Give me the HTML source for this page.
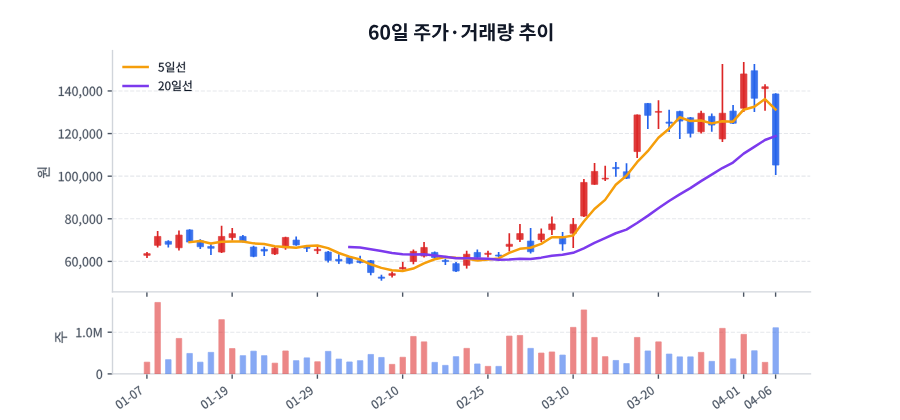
<!DOCTYPE html>
<html><head><meta charset="utf-8"><style>
html,body{margin:0;padding:0;background:#fff;width:900px;height:420px;overflow:hidden;font-family:"Liberation Sans",sans-serif;}
svg{display:block}
</style></head><body>
<svg width="900" height="420" viewBox="0 0 648 302.4" version="1.1">
 
 <defs>
  <style type="text/css">*{stroke-linejoin: round; stroke-linecap: butt}</style>
 </defs>
 <g id="figure_1">
  <g id="patch_1">
   <path d="M 0 302.4 
L 648 302.4 
L 648 0 
L 0 0 
z
" style="fill: #ffffff"/>
  </g>
  <g id="axes_1">
   <g id="patch_2">
    <path d="M 81 210.168 
L 583.56 210.168 
L 583.56 36.432 
L 81 36.432 
L 81 210.168 
z
" style="fill: none"/>
   </g>
   <g id="line2d_1">
    <path d="M 81 188.208 
L 583.56 188.208 
" clip-path="url(#p58a61e97f8)" style="fill: none; stroke-dasharray: 2.96,1.28; stroke-dashoffset: 0; stroke: #e5e7eb; stroke-width: 0.8"/>
   </g>
   <g id="line2d_2">
    <path d="M 81 157.52736 
L 583.56 157.52736 
" clip-path="url(#p58a61e97f8)" style="fill: none; stroke-dasharray: 2.96,1.28; stroke-dashoffset: 0; stroke: #e5e7eb; stroke-width: 0.8"/>
   </g>
   <g id="line2d_3">
    <path d="M 81 126.84672 
L 583.56 126.84672 
" clip-path="url(#p58a61e97f8)" style="fill: none; stroke-dasharray: 2.96,1.28; stroke-dashoffset: 0; stroke: #e5e7eb; stroke-width: 0.8"/>
   </g>
   <g id="line2d_4">
    <path d="M 81 96.16608 
L 583.56 96.16608 
" clip-path="url(#p58a61e97f8)" style="fill: none; stroke-dasharray: 2.96,1.28; stroke-dashoffset: 0; stroke: #e5e7eb; stroke-width: 0.8"/>
   </g>
   <g id="line2d_5">
    <path d="M 81 65.48544 
L 583.56 65.48544 
" clip-path="url(#p58a61e97f8)" style="fill: none; stroke-dasharray: 2.96,1.28; stroke-dashoffset: 0; stroke: #e5e7eb; stroke-width: 0.8"/>
   </g>
   <g id="matplotlib.axis_1">
    <g id="xtick_1">
     <g id="line2d_6">
      <defs>
       <path id="mece1487864" d="M 0 0 
L 0 3.5 
" style="stroke: #4b5563"/>
      </defs>
      <g>
       <use href="#mece1487864" x="105.768" y="210.168" style="fill: #4b5563; stroke: #4b5563"/>
      </g>
     </g>
    </g>
    <g id="xtick_2">
     <g id="line2d_7">
      <g>
       <use href="#mece1487864" x="167.14656" y="210.168" style="fill: #4b5563; stroke: #4b5563"/>
      </g>
     </g>
    </g>
    <g id="xtick_3">
     <g id="line2d_8">
      <g>
       <use href="#mece1487864" x="228.52512" y="210.168" style="fill: #4b5563; stroke: #4b5563"/>
      </g>
     </g>
    </g>
    <g id="xtick_4">
     <g id="line2d_9">
      <g>
       <use href="#mece1487864" x="289.90368" y="210.168" style="fill: #4b5563; stroke: #4b5563"/>
      </g>
     </g>
    </g>
    <g id="xtick_5">
     <g id="line2d_10">
      <g>
       <use href="#mece1487864" x="351.28224" y="210.168" style="fill: #4b5563; stroke: #4b5563"/>
      </g>
     </g>
    </g>
    <g id="xtick_6">
     <g id="line2d_11">
      <g>
       <use href="#mece1487864" x="412.6608" y="210.168" style="fill: #4b5563; stroke: #4b5563"/>
      </g>
     </g>
    </g>
    <g id="xtick_7">
     <g id="line2d_12">
      <g>
       <use href="#mece1487864" x="474.03936" y="210.168" style="fill: #4b5563; stroke: #4b5563"/>
      </g>
     </g>
    </g>
    <g id="xtick_8">
     <g id="line2d_13">
      <g>
       <use href="#mece1487864" x="535.41792" y="210.168" style="fill: #4b5563; stroke: #4b5563"/>
      </g>
     </g>
    </g>
    <g id="xtick_9">
     <g id="line2d_14">
      <g>
       <use href="#mece1487864" x="558.43488" y="210.168" style="fill: #4b5563; stroke: #4b5563"/>
      </g>
     </g>
    </g>
   </g>
   <g id="matplotlib.axis_2">
    <g id="ytick_1">
     <g id="line2d_15">
      <defs>
       <path id="m3193ca7169" d="M 0 0 
L -3.5 0 
" style="stroke: #4b5563"/>
      </defs>
      <g>
       <use href="#m3193ca7169" x="81" y="188.208" style="fill: #4b5563; stroke: #4b5563"/>
      </g>
     </g>
     <g id="text_1">
      <!-- 60,000 -->
      <g style="fill: #4b5563; stroke: #4b5563; stroke-width: 128.0; stroke-linejoin: round" transform="translate(46.523281 191.789719) scale(0.09 -0.09)">
       <defs>
        <path id="NotoSansCJKjp-Regular-36" d="M 1926 -83 
C 2656 -83 3277 531 3277 1440 
C 3277 2426 2765 2912 1971 2912 
C 1606 2912 1197 2701 909 2349 
C 934 3802 1466 4294 2118 4294 
C 2400 4294 2682 4154 2861 3936 
L 3194 4294 
C 2931 4576 2579 4774 2093 4774 
C 1184 4774 358 4077 358 2240 
C 358 691 1030 -83 1926 -83 
z
M 922 1882 
C 1229 2317 1587 2477 1875 2477 
C 2445 2477 2720 2074 2720 1440 
C 2720 800 2374 378 1926 378 
C 1338 378 986 909 922 1882 
z
" transform="scale(0.015625)"/>
        <path id="NotoSansCJKjp-Regular-30" d="M 1779 -83 
C 2669 -83 3238 723 3238 2362 
C 3238 3987 2669 4774 1779 4774 
C 883 4774 320 3987 320 2362 
C 320 723 883 -83 1779 -83 
z
M 1779 390 
C 1248 390 883 986 883 2362 
C 883 3731 1248 4314 1779 4314 
C 2310 4314 2675 3731 2675 2362 
C 2675 986 2310 390 1779 390 
z
" transform="scale(0.015625)"/>
        <path id="NotoSansCJKjp-Regular-2c" d="M 480 -1216 
C 1056 -973 1414 -493 1414 122 
C 1414 550 1229 806 922 806 
C 685 806 480 653 480 397 
C 480 141 678 -13 909 -13 
L 979 -6 
C 973 -390 736 -698 339 -870 
L 480 -1216 
z
" transform="scale(0.015625)"/>
       </defs>
       <use href="#NotoSansCJKjp-Regular-36"/>
       <use href="#NotoSansCJKjp-Regular-30" transform="translate(55.499985 0)"/>
       <use href="#NotoSansCJKjp-Regular-2c" transform="translate(110.999969 0)"/>
       <use href="#NotoSansCJKjp-Regular-30" transform="translate(138.799957 0)"/>
       <use href="#NotoSansCJKjp-Regular-30" transform="translate(194.299942 0)"/>
       <use href="#NotoSansCJKjp-Regular-30" transform="translate(249.799927 0)"/>
      </g>
     </g>
    </g>
    <g id="ytick_2">
     <g id="line2d_16">
      <g>
       <use href="#m3193ca7169" x="81" y="157.52736" style="fill: #4b5563; stroke: #4b5563"/>
      </g>
     </g>
     <g id="text_2">
      <!-- 80,000 -->
      <g style="fill: #4b5563; stroke: #4b5563; stroke-width: 128.0; stroke-linejoin: round" transform="translate(46.523281 161.109079) scale(0.09 -0.09)">
       <defs>
        <path id="NotoSansCJKjp-Regular-38" d="M 1792 -83 
C 2669 -83 3258 448 3258 1126 
C 3258 1773 2880 2125 2470 2362 
L 2470 2394 
C 2746 2611 3091 3034 3091 3526 
C 3091 4250 2605 4762 1805 4762 
C 1075 4762 518 4282 518 3571 
C 518 3078 813 2726 1152 2490 
L 1152 2464 
C 723 2234 294 1792 294 1165 
C 294 442 922 -83 1792 -83 
z
M 2112 2547 
C 1555 2765 1050 3014 1050 3571 
C 1050 4026 1363 4326 1798 4326 
C 2298 4326 2592 3962 2592 3494 
C 2592 3149 2426 2829 2112 2547 
z
M 1798 352 
C 1235 352 813 717 813 1216 
C 813 1664 1082 2035 1459 2278 
C 2125 2010 2701 1779 2701 1146 
C 2701 678 2342 352 1798 352 
z
" transform="scale(0.015625)"/>
       </defs>
       <use href="#NotoSansCJKjp-Regular-38"/>
       <use href="#NotoSansCJKjp-Regular-30" transform="translate(55.499985 0)"/>
       <use href="#NotoSansCJKjp-Regular-2c" transform="translate(110.999969 0)"/>
       <use href="#NotoSansCJKjp-Regular-30" transform="translate(138.799957 0)"/>
       <use href="#NotoSansCJKjp-Regular-30" transform="translate(194.299942 0)"/>
       <use href="#NotoSansCJKjp-Regular-30" transform="translate(249.799927 0)"/>
      </g>
     </g>
    </g>
    <g id="ytick_3">
     <g id="line2d_17">
      <g>
       <use href="#m3193ca7169" x="81" y="126.84672" style="fill: #4b5563; stroke: #4b5563"/>
      </g>
     </g>
     <g id="text_3">
      <!-- 100,000 -->
      <g style="fill: #4b5563; stroke: #4b5563; stroke-width: 128.0; stroke-linejoin: round" transform="translate(41.528281 130.428439) scale(0.09 -0.09)">
       <defs>
        <path id="NotoSansCJKjp-Regular-31" d="M 563 0 
L 3136 0 
L 3136 486 
L 2195 486 
L 2195 4691 
L 1747 4691 
C 1491 4544 1190 4435 774 4358 
L 774 3987 
L 1613 3987 
L 1613 486 
L 563 486 
L 563 0 
z
" transform="scale(0.015625)"/>
       </defs>
       <use href="#NotoSansCJKjp-Regular-31"/>
       <use href="#NotoSansCJKjp-Regular-30" transform="translate(55.499985 0)"/>
       <use href="#NotoSansCJKjp-Regular-30" transform="translate(110.999969 0)"/>
       <use href="#NotoSansCJKjp-Regular-2c" transform="translate(166.499954 0)"/>
       <use href="#NotoSansCJKjp-Regular-30" transform="translate(194.299942 0)"/>
       <use href="#NotoSansCJKjp-Regular-30" transform="translate(249.799927 0)"/>
       <use href="#NotoSansCJKjp-Regular-30" transform="translate(305.299911 0)"/>
      </g>
     </g>
    </g>
    <g id="ytick_4">
     <g id="line2d_18">
      <g>
       <use href="#m3193ca7169" x="81" y="96.16608" style="fill: #4b5563; stroke: #4b5563"/>
      </g>
     </g>
     <g id="text_4">
      <!-- 120,000 -->
      <g style="fill: #4b5563; stroke: #4b5563; stroke-width: 128.0; stroke-linejoin: round" transform="translate(41.528281 99.747799) scale(0.09 -0.09)">
       <defs>
        <path id="NotoSansCJKjp-Regular-32" d="M 282 0 
L 3232 0 
L 3232 506 
L 1933 506 
C 1696 506 1408 480 1165 461 
C 2266 1504 3008 2458 3008 3398 
C 3008 4230 2477 4774 1638 4774 
C 1043 4774 634 4506 256 4090 
L 595 3757 
C 858 4070 1184 4301 1568 4301 
C 2150 4301 2432 3910 2432 3373 
C 2432 2566 1754 1632 282 346 
L 282 0 
z
" transform="scale(0.015625)"/>
       </defs>
       <use href="#NotoSansCJKjp-Regular-31"/>
       <use href="#NotoSansCJKjp-Regular-32" transform="translate(55.499985 0)"/>
       <use href="#NotoSansCJKjp-Regular-30" transform="translate(110.999969 0)"/>
       <use href="#NotoSansCJKjp-Regular-2c" transform="translate(166.499954 0)"/>
       <use href="#NotoSansCJKjp-Regular-30" transform="translate(194.299942 0)"/>
       <use href="#NotoSansCJKjp-Regular-30" transform="translate(249.799927 0)"/>
       <use href="#NotoSansCJKjp-Regular-30" transform="translate(305.299911 0)"/>
      </g>
     </g>
    </g>
    <g id="ytick_5">
     <g id="line2d_19">
      <g>
       <use href="#m3193ca7169" x="81" y="65.48544" style="fill: #4b5563; stroke: #4b5563"/>
      </g>
     </g>
     <g id="text_5">
      <!-- 140,000 -->
      <g style="fill: #4b5563; stroke: #4b5563; stroke-width: 128.0; stroke-linejoin: round" transform="translate(41.528281 69.067159) scale(0.09 -0.09)">
       <defs>
        <path id="NotoSansCJKjp-Regular-34" d="M 2176 0 
L 2726 0 
L 2726 1293 
L 3354 1293 
L 3354 1760 
L 2726 1760 
L 2726 4691 
L 2080 4691 
L 128 1677 
L 128 1293 
L 2176 1293 
L 2176 0 
z
M 2176 1760 
L 736 1760 
L 1805 3360 
C 1939 3590 2067 3827 2182 4051 
L 2208 4051 
C 2195 3814 2176 3430 2176 3200 
L 2176 1760 
z
" transform="scale(0.015625)"/>
       </defs>
       <use href="#NotoSansCJKjp-Regular-31"/>
       <use href="#NotoSansCJKjp-Regular-34" transform="translate(55.499985 0)"/>
       <use href="#NotoSansCJKjp-Regular-30" transform="translate(110.999969 0)"/>
       <use href="#NotoSansCJKjp-Regular-2c" transform="translate(166.499954 0)"/>
       <use href="#NotoSansCJKjp-Regular-30" transform="translate(194.299942 0)"/>
       <use href="#NotoSansCJKjp-Regular-30" transform="translate(249.799927 0)"/>
       <use href="#NotoSansCJKjp-Regular-30" transform="translate(305.299911 0)"/>
      </g>
     </g>
    </g>
   </g>
   <g id="patch_3">
    <path d="M 81 210.168 
L 81 36.432 
" style="fill: none; stroke: #d1d5db; stroke-linejoin: miter; stroke-linecap: square"/>
   </g>
   <g id="patch_4">
    <path d="M 81 210.168 
L 583.56 210.168 
" style="fill: none; stroke: #d1d5db; stroke-linejoin: miter; stroke-linecap: square"/>
   </g>
   <g id="line2d_20">
    <path d="M 105.84 181.512 
L 105.84 185.688 
" clip-path="url(#p58a61e97f8)" style="fill: none; stroke: #dc2626; stroke-width: 1.2"/>
   </g>
   <g id="line2d_21">
    <path d="M 113.51232 166.392 
L 113.51232 178.272 
" clip-path="url(#p58a61e97f8)" style="fill: none; stroke: #dc2626; stroke-width: 1.2"/>
   </g>
   <g id="line2d_22">
    <path d="M 121.18464 173.016 
L 121.18464 178.272 
" clip-path="url(#p58a61e97f8)" style="fill: none; stroke: #2563eb; stroke-width: 1.2"/>
   </g>
   <g id="line2d_23">
    <path d="M 128.85696 165.888 
L 128.85696 180.288 
" clip-path="url(#p58a61e97f8)" style="fill: none; stroke: #dc2626; stroke-width: 1.2"/>
   </g>
   <g id="line2d_24">
    <path d="M 136.52928 165.096 
L 136.52928 174.528 
" clip-path="url(#p58a61e97f8)" style="fill: none; stroke: #2563eb; stroke-width: 1.2"/>
   </g>
   <g id="line2d_25">
    <path d="M 144.2016 172.296 
L 144.2016 179.28 
" clip-path="url(#p58a61e97f8)" style="fill: none; stroke: #2563eb; stroke-width: 1.2"/>
   </g>
   <g id="line2d_26">
    <path d="M 151.87392 175.896 
L 151.87392 183.6 
" clip-path="url(#p58a61e97f8)" style="fill: none; stroke: #2563eb; stroke-width: 1.2"/>
   </g>
   <g id="line2d_27">
    <path d="M 159.54624 162.504 
L 159.54624 182.088 
" clip-path="url(#p58a61e97f8)" style="fill: none; stroke: #dc2626; stroke-width: 1.2"/>
   </g>
   <g id="line2d_28">
    <path d="M 167.21856 164.088 
L 167.21856 173.088 
" clip-path="url(#p58a61e97f8)" style="fill: none; stroke: #dc2626; stroke-width: 1.2"/>
   </g>
   <g id="line2d_29">
    <path d="M 174.89088 169.2 
L 174.89088 174.528 
" clip-path="url(#p58a61e97f8)" style="fill: none; stroke: #2563eb; stroke-width: 1.2"/>
   </g>
   <g id="line2d_30">
    <path d="M 182.5632 176.904 
L 182.5632 185.256 
" clip-path="url(#p58a61e97f8)" style="fill: none; stroke: #2563eb; stroke-width: 1.2"/>
   </g>
   <g id="line2d_31">
    <path d="M 190.23552 177.624 
L 190.23552 184.32 
" clip-path="url(#p58a61e97f8)" style="fill: none; stroke: #2563eb; stroke-width: 1.2"/>
   </g>
   <g id="line2d_32">
    <path d="M 197.90784 177.912 
L 197.90784 183.6 
" clip-path="url(#p58a61e97f8)" style="fill: none; stroke: #dc2626; stroke-width: 1.2"/>
   </g>
   <g id="line2d_33">
    <path d="M 205.58016 170.424 
L 205.58016 179.784 
" clip-path="url(#p58a61e97f8)" style="fill: none; stroke: #dc2626; stroke-width: 1.2"/>
   </g>
   <g id="line2d_34">
    <path d="M 213.25248 170.208 
L 213.25248 176.904 
" clip-path="url(#p58a61e97f8)" style="fill: none; stroke: #2563eb; stroke-width: 1.2"/>
   </g>
   <g id="line2d_35">
    <path d="M 220.9248 177.624 
L 220.9248 181.512 
" clip-path="url(#p58a61e97f8)" style="fill: none; stroke: #2563eb; stroke-width: 1.2"/>
   </g>
   <g id="line2d_36">
    <path d="M 228.59712 177.912 
L 228.59712 182.808 
" clip-path="url(#p58a61e97f8)" style="fill: none; stroke: #dc2626; stroke-width: 1.2"/>
   </g>
   <g id="line2d_37">
    <path d="M 236.26944 180.792 
L 236.26944 189.072 
" clip-path="url(#p58a61e97f8)" style="fill: none; stroke: #2563eb; stroke-width: 1.2"/>
   </g>
   <g id="line2d_38">
    <path d="M 243.94176 183.096 
L 243.94176 190.008 
" clip-path="url(#p58a61e97f8)" style="fill: none; stroke: #2563eb; stroke-width: 1.2"/>
   </g>
   <g id="line2d_39">
    <path d="M 251.61408 184.824 
L 251.61408 190.296 
" clip-path="url(#p58a61e97f8)" style="fill: none; stroke: #2563eb; stroke-width: 1.2"/>
   </g>
   <g id="line2d_40">
    <path d="M 259.2864 184.104 
L 259.2864 189.792 
" clip-path="url(#p58a61e97f8)" style="fill: none; stroke: #2563eb; stroke-width: 1.2"/>
   </g>
   <g id="line2d_41">
    <path d="M 266.95872 187.2 
L 266.95872 198.216 
" clip-path="url(#p58a61e97f8)" style="fill: none; stroke: #2563eb; stroke-width: 1.2"/>
   </g>
   <g id="line2d_42">
    <path d="M 274.63104 197.784 
L 274.63104 202.104 
" clip-path="url(#p58a61e97f8)" style="fill: none; stroke: #2563eb; stroke-width: 1.2"/>
   </g>
   <g id="line2d_43">
    <path d="M 282.30336 195.408 
L 282.30336 199.872 
" clip-path="url(#p58a61e97f8)" style="fill: none; stroke: #dc2626; stroke-width: 1.2"/>
   </g>
   <g id="line2d_44">
    <path d="M 289.97568 188.568 
L 289.97568 194.112 
" clip-path="url(#p58a61e97f8)" style="fill: none; stroke: #dc2626; stroke-width: 1.2"/>
   </g>
   <g id="line2d_45">
    <path d="M 297.648 179.712 
L 297.648 190.296 
" clip-path="url(#p58a61e97f8)" style="fill: none; stroke: #dc2626; stroke-width: 1.2"/>
   </g>
   <g id="line2d_46">
    <path d="M 305.32032 174.312 
L 305.32032 185.472 
" clip-path="url(#p58a61e97f8)" style="fill: none; stroke: #dc2626; stroke-width: 1.2"/>
   </g>
   <g id="line2d_47">
    <path d="M 312.99264 181.008 
L 312.99264 186.192 
" clip-path="url(#p58a61e97f8)" style="fill: none; stroke: #2563eb; stroke-width: 1.2"/>
   </g>
   <g id="line2d_48">
    <path d="M 320.66496 186.192 
L 320.66496 190.8 
" clip-path="url(#p58a61e97f8)" style="fill: none; stroke: #2563eb; stroke-width: 1.2"/>
   </g>
   <g id="line2d_49">
    <path d="M 328.33728 188.568 
L 328.33728 195.912 
" clip-path="url(#p58a61e97f8)" style="fill: none; stroke: #2563eb; stroke-width: 1.2"/>
   </g>
   <g id="line2d_50">
    <path d="M 336.0096 180.504 
L 336.0096 193.392 
" clip-path="url(#p58a61e97f8)" style="fill: none; stroke: #dc2626; stroke-width: 1.2"/>
   </g>
   <g id="line2d_51">
    <path d="M 343.68192 179.712 
L 343.68192 185.688 
" clip-path="url(#p58a61e97f8)" style="fill: none; stroke: #2563eb; stroke-width: 1.2"/>
   </g>
   <g id="line2d_52">
    <path d="M 351.35424 180.504 
L 351.35424 185.472 
" clip-path="url(#p58a61e97f8)" style="fill: none; stroke: #dc2626; stroke-width: 1.2"/>
   </g>
   <g id="line2d_53">
    <path d="M 359.02656 181.512 
L 359.02656 185.112 
" clip-path="url(#p58a61e97f8)" style="fill: none; stroke: #2563eb; stroke-width: 1.2"/>
   </g>
   <g id="line2d_54">
    <path d="M 366.69888 167.976 
L 366.69888 181.008 
" clip-path="url(#p58a61e97f8)" style="fill: none; stroke: #dc2626; stroke-width: 1.2"/>
   </g>
   <g id="line2d_55">
    <path d="M 374.3712 161.208 
L 374.3712 174.24 
" clip-path="url(#p58a61e97f8)" style="fill: none; stroke: #dc2626; stroke-width: 1.2"/>
   </g>
   <g id="line2d_56">
    <path d="M 382.04352 164.088 
L 382.04352 182.592 
" clip-path="url(#p58a61e97f8)" style="fill: none; stroke: #2563eb; stroke-width: 1.2"/>
   </g>
   <g id="line2d_57">
    <path d="M 389.71584 164.592 
L 389.71584 174.312 
" clip-path="url(#p58a61e97f8)" style="fill: none; stroke: #dc2626; stroke-width: 1.2"/>
   </g>
   <g id="line2d_58">
    <path d="M 397.38816 155.808 
L 397.38816 169.2 
" clip-path="url(#p58a61e97f8)" style="fill: none; stroke: #dc2626; stroke-width: 1.2"/>
   </g>
   <g id="line2d_59">
    <path d="M 405.06048 167.112 
L 405.06048 180.504 
" clip-path="url(#p58a61e97f8)" style="fill: none; stroke: #2563eb; stroke-width: 1.2"/>
   </g>
   <g id="line2d_60">
    <path d="M 412.7328 156.888 
L 412.7328 178.488 
" clip-path="url(#p58a61e97f8)" style="fill: none; stroke: #dc2626; stroke-width: 1.2"/>
   </g>
   <g id="line2d_61">
    <path d="M 420.40512 128.88 
L 420.40512 156.312 
" clip-path="url(#p58a61e97f8)" style="fill: none; stroke: #dc2626; stroke-width: 1.2"/>
   </g>
   <g id="line2d_62">
    <path d="M 428.07744 117.288 
L 428.07744 132.984 
" clip-path="url(#p58a61e97f8)" style="fill: none; stroke: #dc2626; stroke-width: 1.2"/>
   </g>
   <g id="line2d_63">
    <path d="M 435.74976 119.304 
L 435.74976 130.32 
" clip-path="url(#p58a61e97f8)" style="fill: none; stroke: #dc2626; stroke-width: 1.2"/>
   </g>
   <g id="line2d_64">
    <path d="M 443.42208 116.712 
L 443.42208 127.224 
" clip-path="url(#p58a61e97f8)" style="fill: none; stroke: #2563eb; stroke-width: 1.2"/>
   </g>
   <g id="line2d_65">
    <path d="M 451.0944 117.576 
L 451.0944 128.88 
" clip-path="url(#p58a61e97f8)" style="fill: none; stroke: #2563eb; stroke-width: 1.2"/>
   </g>
   <g id="line2d_66">
    <path d="M 458.76672 82.512 
L 458.76672 113.688 
" clip-path="url(#p58a61e97f8)" style="fill: none; stroke: #dc2626; stroke-width: 1.2"/>
   </g>
   <g id="line2d_67">
    <path d="M 466.43904 74.232 
L 466.43904 92.808 
" clip-path="url(#p58a61e97f8)" style="fill: none; stroke: #2563eb; stroke-width: 1.2"/>
   </g>
   <g id="line2d_68">
    <path d="M 474.11136 72.216 
L 474.11136 92.808 
" clip-path="url(#p58a61e97f8)" style="fill: none; stroke: #dc2626; stroke-width: 1.2"/>
   </g>
   <g id="line2d_69">
    <path d="M 481.78368 78.984 
L 481.78368 95.112 
" clip-path="url(#p58a61e97f8)" style="fill: none; stroke: #2563eb; stroke-width: 1.2"/>
   </g>
   <g id="line2d_70">
    <path d="M 489.456 79.704 
L 489.456 100.008 
" clip-path="url(#p58a61e97f8)" style="fill: none; stroke: #2563eb; stroke-width: 1.2"/>
   </g>
   <g id="line2d_71">
    <path d="M 497.12832 84.312 
L 497.12832 98.928 
" clip-path="url(#p58a61e97f8)" style="fill: none; stroke: #2563eb; stroke-width: 1.2"/>
   </g>
   <g id="line2d_72">
    <path d="M 504.80064 79.704 
L 504.80064 96.192 
" clip-path="url(#p58a61e97f8)" style="fill: none; stroke: #dc2626; stroke-width: 1.2"/>
   </g>
   <g id="line2d_73">
    <path d="M 512.47296 81.792 
L 512.47296 94.824 
" clip-path="url(#p58a61e97f8)" style="fill: none; stroke: #2563eb; stroke-width: 1.2"/>
   </g>
   <g id="line2d_74">
    <path d="M 520.14528 46.008 
L 520.14528 102.312 
" clip-path="url(#p58a61e97f8)" style="fill: none; stroke: #dc2626; stroke-width: 1.2"/>
   </g>
   <g id="line2d_75">
    <path d="M 527.8176 75.6 
L 527.8176 89.28 
" clip-path="url(#p58a61e97f8)" style="fill: none; stroke: #2563eb; stroke-width: 1.2"/>
   </g>
   <g id="line2d_76">
    <path d="M 535.48992 44.568 
L 535.48992 80.712 
" clip-path="url(#p58a61e97f8)" style="fill: none; stroke: #dc2626; stroke-width: 1.2"/>
   </g>
   <g id="line2d_77">
    <path d="M 543.16224 46.008 
L 543.16224 80.568 
" clip-path="url(#p58a61e97f8)" style="fill: none; stroke: #2563eb; stroke-width: 1.2"/>
   </g>
   <g id="line2d_78">
    <path d="M 550.83456 60.696 
L 550.83456 79.704 
" clip-path="url(#p58a61e97f8)" style="fill: none; stroke: #dc2626; stroke-width: 1.2"/>
   </g>
   <g id="line2d_79">
    <path d="M 558.50688 67.176 
L 558.50688 126 
" clip-path="url(#p58a61e97f8)" style="fill: none; stroke: #2563eb; stroke-width: 1.2"/>
   </g>
   <g id="patch_5">
    <path d="M 103.538304 182.628 
L 108.141696 182.628 
L 108.141696 183.852 
L 103.538304 183.852 
z
" clip-path="url(#p58a61e97f8)" style="fill: #dc2626; opacity: 0.9; stroke: #dc2626; stroke-width: 0.5; stroke-linejoin: miter"/>
   </g>
   <g id="patch_6">
    <path d="M 111.210624 170.244 
L 115.814016 170.244 
L 115.814016 176.652 
L 111.210624 176.652 
z
" clip-path="url(#p58a61e97f8)" style="fill: #dc2626; opacity: 0.9; stroke: #dc2626; stroke-width: 0.5; stroke-linejoin: miter"/>
   </g>
   <g id="patch_7">
    <path d="M 118.882944 173.772 
L 123.486336 173.772 
L 123.486336 175.86 
L 118.882944 175.86 
z
" clip-path="url(#p58a61e97f8)" style="fill: #2563eb; opacity: 0.9; stroke: #2563eb; stroke-width: 0.5; stroke-linejoin: miter"/>
   </g>
   <g id="patch_8">
    <path d="M 126.555264 169.236 
L 131.158656 169.236 
L 131.158656 178.38 
L 126.555264 178.38 
z
" clip-path="url(#p58a61e97f8)" style="fill: #dc2626; opacity: 0.9; stroke: #dc2626; stroke-width: 0.5; stroke-linejoin: miter"/>
   </g>
   <g id="patch_9">
    <path d="M 134.227584 165.564 
L 138.830976 165.564 
L 138.830976 174.276 
L 134.227584 174.276 
z
" clip-path="url(#p58a61e97f8)" style="fill: #2563eb; opacity: 0.9; stroke: #2563eb; stroke-width: 0.5; stroke-linejoin: miter"/>
   </g>
   <g id="patch_10">
    <path d="M 141.899904 173.34 
L 146.503296 173.34 
L 146.503296 177.66 
L 141.899904 177.66 
z
" clip-path="url(#p58a61e97f8)" style="fill: #2563eb; opacity: 0.9; stroke: #2563eb; stroke-width: 0.5; stroke-linejoin: miter"/>
   </g>
   <g id="patch_11">
    <path d="M 149.572224 177.444 
L 154.175616 177.444 
L 154.175616 178.74 
L 149.572224 178.74 
z
" clip-path="url(#p58a61e97f8)" style="fill: #2563eb; opacity: 0.9; stroke: #2563eb; stroke-width: 0.5; stroke-linejoin: miter"/>
   </g>
   <g id="patch_12">
    <path d="M 157.244544 170.244 
L 161.847936 170.244 
L 161.847936 181.476 
L 157.244544 181.476 
z
" clip-path="url(#p58a61e97f8)" style="fill: #dc2626; opacity: 0.9; stroke: #dc2626; stroke-width: 0.5; stroke-linejoin: miter"/>
   </g>
   <g id="patch_13">
    <path d="M 164.916864 168.228 
L 169.520256 168.228 
L 169.520256 171.036 
L 164.916864 171.036 
z
" clip-path="url(#p58a61e97f8)" style="fill: #dc2626; opacity: 0.9; stroke: #dc2626; stroke-width: 0.5; stroke-linejoin: miter"/>
   </g>
   <g id="patch_14">
    <path d="M 172.589184 170.244 
L 177.192576 170.244 
L 177.192576 174.06 
L 172.589184 174.06 
z
" clip-path="url(#p58a61e97f8)" style="fill: #2563eb; opacity: 0.9; stroke: #2563eb; stroke-width: 0.5; stroke-linejoin: miter"/>
   </g>
   <g id="patch_15">
    <path d="M 180.261504 177.876 
L 184.864896 177.876 
L 184.864896 184.572 
L 180.261504 184.572 
z
" clip-path="url(#p58a61e97f8)" style="fill: #2563eb; opacity: 0.9; stroke: #2563eb; stroke-width: 0.5; stroke-linejoin: miter"/>
   </g>
   <g id="patch_16">
    <path d="M 187.933824 179.532 
L 192.537216 179.532 
L 192.537216 180.756 
L 187.933824 180.756 
z
" clip-path="url(#p58a61e97f8)" style="fill: #2563eb; opacity: 0.9; stroke: #2563eb; stroke-width: 0.5; stroke-linejoin: miter"/>
   </g>
   <g id="patch_17">
    <path d="M 195.606144 178.74 
L 200.209536 178.74 
L 200.209536 182.844 
L 195.606144 182.844 
z
" clip-path="url(#p58a61e97f8)" style="fill: #dc2626; opacity: 0.9; stroke: #dc2626; stroke-width: 0.5; stroke-linejoin: miter"/>
   </g>
   <g id="patch_18">
    <path d="M 203.278464 170.964 
L 207.881856 170.964 
L 207.881856 178.38 
L 203.278464 178.38 
z
" clip-path="url(#p58a61e97f8)" style="fill: #dc2626; opacity: 0.9; stroke: #dc2626; stroke-width: 0.5; stroke-linejoin: miter"/>
   </g>
   <g id="patch_19">
    <path d="M 210.950784 172.836 
L 215.554176 172.836 
L 215.554176 176.364 
L 210.950784 176.364 
z
" clip-path="url(#p58a61e97f8)" style="fill: #2563eb; opacity: 0.9; stroke: #2563eb; stroke-width: 0.5; stroke-linejoin: miter"/>
   </g>
   <g id="patch_20">
    <path d="M 218.623104 177.876 
L 223.226496 177.876 
L 223.226496 178.74 
L 218.623104 178.74 
z
" clip-path="url(#p58a61e97f8)" style="fill: #2563eb; opacity: 0.9; stroke: #2563eb; stroke-width: 0.5; stroke-linejoin: miter"/>
   </g>
   <g id="patch_21">
    <path d="M 226.295424 179.532 
L 230.898816 179.532 
L 230.898816 180.468 
L 226.295424 180.468 
z
" clip-path="url(#p58a61e97f8)" style="fill: #dc2626; opacity: 0.9; stroke: #dc2626; stroke-width: 0.5; stroke-linejoin: miter"/>
   </g>
   <g id="patch_22">
    <path d="M 233.967744 181.476 
L 238.571136 181.476 
L 238.571136 187.452 
L 233.967744 187.452 
z
" clip-path="url(#p58a61e97f8)" style="fill: #2563eb; opacity: 0.9; stroke: #2563eb; stroke-width: 0.5; stroke-linejoin: miter"/>
   </g>
   <g id="patch_23">
    <path d="M 241.640064 186.732 
L 246.243456 186.732 
L 246.243456 187.956 
L 241.640064 187.956 
z
" clip-path="url(#p58a61e97f8)" style="fill: #2563eb; opacity: 0.9; stroke: #2563eb; stroke-width: 0.5; stroke-linejoin: miter"/>
   </g>
   <g id="patch_24">
    <path d="M 249.312384 185.508 
L 253.915776 185.508 
L 253.915776 189.54 
L 249.312384 189.54 
z
" clip-path="url(#p58a61e97f8)" style="fill: #2563eb; opacity: 0.9; stroke: #2563eb; stroke-width: 0.5; stroke-linejoin: miter"/>
   </g>
   <g id="patch_25">
    <path d="M 256.984704 187.74 
L 261.588096 187.74 
L 261.588096 189.036 
L 256.984704 189.036 
z
" clip-path="url(#p58a61e97f8)" style="fill: #2563eb; opacity: 0.9; stroke: #2563eb; stroke-width: 0.5; stroke-linejoin: miter"/>
   </g>
   <g id="patch_26">
    <path d="M 264.657024 187.74 
L 269.260416 187.74 
L 269.260416 196.236 
L 264.657024 196.236 
z
" clip-path="url(#p58a61e97f8)" style="fill: #2563eb; opacity: 0.9; stroke: #2563eb; stroke-width: 0.5; stroke-linejoin: miter"/>
   </g>
   <g id="patch_27">
    <path d="M 272.329344 199.476 
L 276.932736 199.476 
L 276.932736 200.34 
L 272.329344 200.34 
z
" clip-path="url(#p58a61e97f8)" style="fill: #2563eb; opacity: 0.9; stroke: #2563eb; stroke-width: 0.5; stroke-linejoin: miter"/>
   </g>
   <g id="patch_28">
    <path d="M 280.001664 197.028 
L 284.605056 197.028 
L 284.605056 198.252 
L 280.001664 198.252 
z
" clip-path="url(#p58a61e97f8)" style="fill: #dc2626; opacity: 0.9; stroke: #dc2626; stroke-width: 0.5; stroke-linejoin: miter"/>
   </g>
   <g id="patch_29">
    <path d="M 287.673984 192.564 
L 292.277376 192.564 
L 292.277376 193.644 
L 287.673984 193.644 
z
" clip-path="url(#p58a61e97f8)" style="fill: #dc2626; opacity: 0.9; stroke: #dc2626; stroke-width: 0.5; stroke-linejoin: miter"/>
   </g>
   <g id="patch_30">
    <path d="M 295.346304 180.972 
L 299.949696 180.972 
L 299.949696 188.316 
L 295.346304 188.316 
z
" clip-path="url(#p58a61e97f8)" style="fill: #dc2626; opacity: 0.9; stroke: #dc2626; stroke-width: 0.5; stroke-linejoin: miter"/>
   </g>
   <g id="patch_31">
    <path d="M 303.018624 178.164 
L 307.622016 178.164 
L 307.622016 184.356 
L 303.018624 184.356 
z
" clip-path="url(#p58a61e97f8)" style="fill: #dc2626; opacity: 0.9; stroke: #dc2626; stroke-width: 0.5; stroke-linejoin: miter"/>
   </g>
   <g id="patch_32">
    <path d="M 310.690944 181.764 
L 315.294336 181.764 
L 315.294336 185.436 
L 310.690944 185.436 
z
" clip-path="url(#p58a61e97f8)" style="fill: #2563eb; opacity: 0.9; stroke: #2563eb; stroke-width: 0.5; stroke-linejoin: miter"/>
   </g>
   <g id="patch_33">
    <path d="M 318.363264 187.452 
L 322.966656 187.452 
L 322.966656 188.316 
L 318.363264 188.316 
z
" clip-path="url(#p58a61e97f8)" style="fill: #2563eb; opacity: 0.9; stroke: #2563eb; stroke-width: 0.5; stroke-linejoin: miter"/>
   </g>
   <g id="patch_34">
    <path d="M 326.035584 189.828 
L 330.638976 189.828 
L 330.638976 195.156 
L 326.035584 195.156 
z
" clip-path="url(#p58a61e97f8)" style="fill: #2563eb; opacity: 0.9; stroke: #2563eb; stroke-width: 0.5; stroke-linejoin: miter"/>
   </g>
   <g id="patch_35">
    <path d="M 333.707904 183.06 
L 338.311296 183.06 
L 338.311296 191.052 
L 333.707904 191.052 
z
" clip-path="url(#p58a61e97f8)" style="fill: #dc2626; opacity: 0.9; stroke: #dc2626; stroke-width: 0.5; stroke-linejoin: miter"/>
   </g>
   <g id="patch_36">
    <path d="M 341.380224 181.764 
L 345.983616 181.764 
L 345.983616 185.22 
L 341.380224 185.22 
z
" clip-path="url(#p58a61e97f8)" style="fill: #2563eb; opacity: 0.9; stroke: #2563eb; stroke-width: 0.5; stroke-linejoin: miter"/>
   </g>
   <g id="patch_37">
    <path d="M 349.052544 182.34 
L 353.655936 182.34 
L 353.655936 183.132 
L 349.052544 183.132 
z
" clip-path="url(#p58a61e97f8)" style="fill: #dc2626; opacity: 0.9; stroke: #dc2626; stroke-width: 0.5; stroke-linejoin: miter"/>
   </g>
   <g id="patch_38">
    <path d="M 356.724864 183.636 
L 361.328256 183.636 
L 361.328256 184.356 
L 356.724864 184.356 
z
" clip-path="url(#p58a61e97f8)" style="fill: #2563eb; opacity: 0.9; stroke: #2563eb; stroke-width: 0.5; stroke-linejoin: miter"/>
   </g>
   <g id="patch_39">
    <path d="M 364.397184 175.86 
L 369.000576 175.86 
L 369.000576 177.372 
L 364.397184 177.372 
z
" clip-path="url(#p58a61e97f8)" style="fill: #dc2626; opacity: 0.9; stroke: #dc2626; stroke-width: 0.5; stroke-linejoin: miter"/>
   </g>
   <g id="patch_40">
    <path d="M 372.069504 168.156 
L 376.672896 168.156 
L 376.672896 172.404 
L 372.069504 172.404 
z
" clip-path="url(#p58a61e97f8)" style="fill: #dc2626; opacity: 0.9; stroke: #dc2626; stroke-width: 0.5; stroke-linejoin: miter"/>
   </g>
   <g id="patch_41">
    <path d="M 379.741824 173.556 
L 384.345216 173.556 
L 384.345216 181.26 
L 379.741824 181.26 
z
" clip-path="url(#p58a61e97f8)" style="fill: #2563eb; opacity: 0.9; stroke: #2563eb; stroke-width: 0.5; stroke-linejoin: miter"/>
   </g>
   <g id="patch_42">
    <path d="M 387.414144 168.444 
L 392.017536 168.444 
L 392.017536 172.548 
L 387.414144 172.548 
z
" clip-path="url(#p58a61e97f8)" style="fill: #dc2626; opacity: 0.9; stroke: #dc2626; stroke-width: 0.5; stroke-linejoin: miter"/>
   </g>
   <g id="patch_43">
    <path d="M 395.086464 161.244 
L 399.689856 161.244 
L 399.689856 165.348 
L 395.086464 165.348 
z
" clip-path="url(#p58a61e97f8)" style="fill: #dc2626; opacity: 0.9; stroke: #dc2626; stroke-width: 0.5; stroke-linejoin: miter"/>
   </g>
   <g id="patch_44">
    <path d="M 402.758784 171.54 
L 407.362176 171.54 
L 407.362176 175.644 
L 402.758784 175.644 
z
" clip-path="url(#p58a61e97f8)" style="fill: #2563eb; opacity: 0.9; stroke: #2563eb; stroke-width: 0.5; stroke-linejoin: miter"/>
   </g>
   <g id="patch_45">
    <path d="M 410.431104 161.532 
L 415.034496 161.532 
L 415.034496 167.94 
L 410.431104 167.94 
z
" clip-path="url(#p58a61e97f8)" style="fill: #dc2626; opacity: 0.9; stroke: #dc2626; stroke-width: 0.5; stroke-linejoin: miter"/>
   </g>
   <g id="patch_46">
    <path d="M 418.103424 131.364 
L 422.706816 131.364 
L 422.706816 155.556 
L 418.103424 155.556 
z
" clip-path="url(#p58a61e97f8)" style="fill: #dc2626; opacity: 0.9; stroke: #dc2626; stroke-width: 0.5; stroke-linejoin: miter"/>
   </g>
   <g id="patch_47">
    <path d="M 425.775744 123.444 
L 430.379136 123.444 
L 430.379136 132.732 
L 425.775744 132.732 
z
" clip-path="url(#p58a61e97f8)" style="fill: #dc2626; opacity: 0.9; stroke: #dc2626; stroke-width: 0.5; stroke-linejoin: miter"/>
   </g>
   <g id="patch_48">
    <path d="M 433.448064 128.34 
L 438.051456 128.34 
L 438.051456 128.916 
L 433.448064 128.916 
z
" clip-path="url(#p58a61e97f8)" style="fill: #dc2626; opacity: 0.9; stroke: #dc2626; stroke-width: 0.5; stroke-linejoin: miter"/>
   </g>
   <g id="patch_49">
    <path d="M 441.120384 120.564 
L 445.723776 120.564 
L 445.723776 121.428 
L 441.120384 121.428 
z
" clip-path="url(#p58a61e97f8)" style="fill: #2563eb; opacity: 0.9; stroke: #2563eb; stroke-width: 0.5; stroke-linejoin: miter"/>
   </g>
   <g id="patch_50">
    <path d="M 448.792704 123.66 
L 453.396096 123.66 
L 453.396096 128.34 
L 448.792704 128.34 
z
" clip-path="url(#p58a61e97f8)" style="fill: #2563eb; opacity: 0.9; stroke: #2563eb; stroke-width: 0.5; stroke-linejoin: miter"/>
   </g>
   <g id="patch_51">
    <path d="M 456.465024 82.764 
L 461.068416 82.764 
L 461.068416 109.116 
L 456.465024 109.116 
z
" clip-path="url(#p58a61e97f8)" style="fill: #dc2626; opacity: 0.9; stroke: #dc2626; stroke-width: 0.5; stroke-linejoin: miter"/>
   </g>
   <g id="patch_52">
    <path d="M 464.137344 74.484 
L 468.740736 74.484 
L 468.740736 83.052 
L 464.137344 83.052 
z
" clip-path="url(#p58a61e97f8)" style="fill: #2563eb; opacity: 0.9; stroke: #2563eb; stroke-width: 0.5; stroke-linejoin: miter"/>
   </g>
   <g id="patch_53">
    <path d="M 471.809664 80.244 
L 476.413056 80.244 
L 476.413056 80.82 
L 471.809664 80.82 
z
" clip-path="url(#p58a61e97f8)" style="fill: #dc2626; opacity: 0.9; stroke: #dc2626; stroke-width: 0.5; stroke-linejoin: miter"/>
   </g>
   <g id="patch_54">
    <path d="M 479.481984 87.876 
L 484.085376 87.876 
L 484.085376 88.74 
L 479.481984 88.74 
z
" clip-path="url(#p58a61e97f8)" style="fill: #2563eb; opacity: 0.9; stroke: #2563eb; stroke-width: 0.5; stroke-linejoin: miter"/>
   </g>
   <g id="patch_55">
    <path d="M 487.154304 80.244 
L 491.757696 80.244 
L 491.757696 87.156 
L 487.154304 87.156 
z
" clip-path="url(#p58a61e97f8)" style="fill: #2563eb; opacity: 0.9; stroke: #2563eb; stroke-width: 0.5; stroke-linejoin: miter"/>
   </g>
   <g id="patch_56">
    <path d="M 494.826624 84.78 
L 499.430016 84.78 
L 499.430016 95.94 
L 494.826624 95.94 
z
" clip-path="url(#p58a61e97f8)" style="fill: #2563eb; opacity: 0.9; stroke: #2563eb; stroke-width: 0.5; stroke-linejoin: miter"/>
   </g>
   <g id="patch_57">
    <path d="M 502.498944 81.54 
L 507.102336 81.54 
L 507.102336 94.86 
L 502.498944 94.86 
z
" clip-path="url(#p58a61e97f8)" style="fill: #dc2626; opacity: 0.9; stroke: #dc2626; stroke-width: 0.5; stroke-linejoin: miter"/>
   </g>
   <g id="patch_58">
    <path d="M 510.171264 83.772 
L 514.774656 83.772 
L 514.774656 90.036 
L 510.171264 90.036 
z
" clip-path="url(#p58a61e97f8)" style="fill: #2563eb; opacity: 0.9; stroke: #2563eb; stroke-width: 0.5; stroke-linejoin: miter"/>
   </g>
   <g id="patch_59">
    <path d="M 517.843584 81.54 
L 522.446976 81.54 
L 522.446976 100.044 
L 517.843584 100.044 
z
" clip-path="url(#p58a61e97f8)" style="fill: #dc2626; opacity: 0.9; stroke: #dc2626; stroke-width: 0.5; stroke-linejoin: miter"/>
   </g>
   <g id="patch_60">
    <path d="M 525.515904 79.956 
L 530.119296 79.956 
L 530.119296 88.74 
L 525.515904 88.74 
z
" clip-path="url(#p58a61e97f8)" style="fill: #2563eb; opacity: 0.9; stroke: #2563eb; stroke-width: 0.5; stroke-linejoin: miter"/>
   </g>
   <g id="patch_61">
    <path d="M 533.188224 53.244 
L 537.791616 53.244 
L 537.791616 77.94 
L 533.188224 77.94 
z
" clip-path="url(#p58a61e97f8)" style="fill: #dc2626; opacity: 0.9; stroke: #dc2626; stroke-width: 0.5; stroke-linejoin: miter"/>
   </g>
   <g id="patch_62">
    <path d="M 540.860544 50.94 
L 545.463936 50.94 
L 545.463936 70.74 
L 540.860544 70.74 
z
" clip-path="url(#p58a61e97f8)" style="fill: #2563eb; opacity: 0.9; stroke: #2563eb; stroke-width: 0.5; stroke-linejoin: miter"/>
   </g>
   <g id="patch_63">
    <path d="M 548.532864 62.46 
L 553.136256 62.46 
L 553.136256 63.828 
L 548.532864 63.828 
z
" clip-path="url(#p58a61e97f8)" style="fill: #dc2626; opacity: 0.9; stroke: #dc2626; stroke-width: 0.5; stroke-linejoin: miter"/>
   </g>
   <g id="patch_64">
    <path d="M 556.205184 67.644 
L 560.808576 67.644 
L 560.808576 118.836 
L 556.205184 118.836 
z
" clip-path="url(#p58a61e97f8)" style="fill: #2563eb; opacity: 0.9; stroke: #2563eb; stroke-width: 0.5; stroke-linejoin: miter"/>
   </g>
   <g id="line2d_80">
    <path d="M 136.45728 174.3984 
L 144.1296 173.5056 
L 151.80192 175.3056 
L 159.47424 174.0816 
L 167.14656 173.88 
L 174.81888 173.8368 
L 182.4912 175.2192 
L 190.16352 175.6224 
L 197.83584 177.3216 
L 205.50816 177.8688 
L 213.18048 178.3296 
L 220.8528 177.1632 
L 228.52512 176.8176 
L 236.19744 178.6608 
L 243.86976 182.16 
L 251.54208 184.7952 
L 259.2144 186.8544 
L 266.88672 190.296 
L 274.55904 192.8736 
L 282.23136 194.5872 
L 289.90368 195.0912 
L 297.576 193.3776 
L 305.24832 189.6624 
L 312.92064 186.6816 
L 320.59296 185.04 
L 328.26528 185.6592 
L 335.9376 186.0768 
L 343.60992 187.5888 
L 351.28224 186.8688 
L 358.95456 186.0768 
L 366.62688 182.1168 
L 374.2992 179.136 
L 381.97152 178.344 
L 389.64384 175.5648 
L 397.31616 170.8416 
L 404.98848 170.8992 
L 412.6608 169.5744 
L 420.33312 159.4944 
L 428.00544 150.4944 
L 435.67776 143.9136 
L 443.35008 133.0704 
L 451.0224 126.5328 
L 458.69472 116.8128 
L 466.36704 108.8352 
L 474.03936 99.216 
L 481.71168 92.6784 
L 489.384 84.4416 
L 497.05632 87.1776 
L 504.72864 86.7744 
L 512.40096 88.8336 
L 520.07328 87.2928 
L 527.7456 87.6096 
L 535.41792 78.9696 
L 543.09024 76.9104 
L 550.76256 71.2944 
L 558.43488 78.8544 
" clip-path="url(#p58a61e97f8)" style="fill: none; stroke: #f59e0b; stroke-width: 1.8; stroke-linecap: square"/>
   </g>
   <g id="line2d_81">
    <path d="M 251.54208 177.84 
L 259.2144 178.1856 
L 266.88672 179.5104 
L 274.55904 180.7344 
L 282.23136 182.124 
L 289.90368 183.0132 
L 297.576 183.1536 
L 305.24832 183.0996 
L 312.92064 183.8844 
L 320.59296 184.914 
L 328.26528 185.9688 
L 335.9376 185.868 
L 343.60992 186.0912 
L 351.28224 186.2712 
L 358.95456 186.966 
L 366.62688 186.9156 
L 374.2992 186.3612 
L 381.97152 186.4728 
L 389.64384 185.4972 
L 397.31616 184.1364 
L 404.98848 183.4416 
L 412.6608 182.0412 
L 420.33312 178.7724 
L 428.00544 174.9024 
L 435.67776 171.468 
L 443.35008 167.9364 
L 451.0224 165.33 
L 458.69472 160.56 
L 466.36704 155.4408 
L 474.03936 150.012 
L 481.71168 144.6912 
L 489.384 139.9212 
L 497.05632 135.4572 
L 504.72864 130.4172 
L 512.40096 125.7012 
L 520.07328 120.9852 
L 527.7456 117.0396 
L 535.41792 110.6136 
L 543.09024 105.7536 
L 550.76256 100.8144 
L 558.43488 97.974 
" clip-path="url(#p58a61e97f8)" style="fill: none; stroke: #7c3aed; stroke-width: 1.8; stroke-linecap: square"/>
   </g>
  </g>
  <g id="axes_2">
   <g id="patch_65">
    <path d="M 81 269.208 
L 583.56 269.208 
L 583.56 214.704 
L 81 214.704 
L 81 269.208 
z
" style="fill: none"/>
   </g>
   <g id="line2d_82">
    <path d="M 81 239.184 
L 583.56 239.184 
" clip-path="url(#pa4df5e8719)" style="fill: none; stroke-dasharray: 2.96,1.28; stroke-dashoffset: 0; stroke: #e5e7eb; stroke-width: 0.8"/>
   </g>
   <g id="matplotlib.axis_3">
    <g id="xtick_10">
     <g id="line2d_83">
      <g>
       <use href="#mece1487864" x="105.768" y="269.208" style="fill: #4b5563; stroke: #4b5563"/>
      </g>
     </g>
     <g id="text_6">
      <!-- 01-07 -->
      <g style="fill: #4b5563; stroke: #4b5563; stroke-width: 135.5; stroke-linejoin: round" transform="translate(85.769523 295.057251) rotate(-35) scale(0.085 -0.085)">
       <defs>
        <path id="NotoSansCJKjp-Regular-2d" d="M 294 1568 
L 1933 1568 
L 1933 2016 
L 294 2016 
L 294 1568 
z
" transform="scale(0.015625)"/>
        <path id="NotoSansCJKjp-Regular-37" d="M 1267 0 
L 1875 0 
C 1952 1837 2150 2931 3251 4339 
L 3251 4691 
L 314 4691 
L 314 4192 
L 2592 4192 
C 1670 2912 1350 1779 1267 0 
z
" transform="scale(0.015625)"/>
       </defs>
       <use href="#NotoSansCJKjp-Regular-30"/>
       <use href="#NotoSansCJKjp-Regular-31" transform="translate(55.499985 0)"/>
       <use href="#NotoSansCJKjp-Regular-2d" transform="translate(110.999969 0)"/>
       <use href="#NotoSansCJKjp-Regular-30" transform="translate(145.699966 0)"/>
       <use href="#NotoSansCJKjp-Regular-37" transform="translate(201.199951 0)"/>
      </g>
     </g>
    </g>
    <g id="xtick_11">
     <g id="line2d_84">
      <g>
       <use href="#mece1487864" x="167.14656" y="269.208" style="fill: #4b5563; stroke: #4b5563"/>
      </g>
     </g>
     <g id="text_7">
      <!-- 01-19 -->
      <g style="fill: #4b5563; stroke: #4b5563; stroke-width: 135.5; stroke-linejoin: round" transform="translate(147.148083 295.057251) rotate(-35) scale(0.085 -0.085)">
       <defs>
        <path id="NotoSansCJKjp-Regular-39" d="M 1504 -83 
C 2381 -83 3206 646 3206 2547 
C 3206 4038 2528 4774 1626 4774 
C 896 4774 282 4166 282 3251 
C 282 2285 794 1779 1574 1779 
C 1965 1779 2368 2003 2656 2349 
C 2611 896 2086 403 1485 403 
C 1178 403 896 538 691 762 
L 371 397 
C 634 122 992 -83 1504 -83 
z
M 2650 2842 
C 2336 2394 1984 2214 1670 2214 
C 1114 2214 832 2624 832 3251 
C 832 3898 1178 4320 1632 4320 
C 2227 4320 2586 3808 2650 2842 
z
" transform="scale(0.015625)"/>
       </defs>
       <use href="#NotoSansCJKjp-Regular-30"/>
       <use href="#NotoSansCJKjp-Regular-31" transform="translate(55.499985 0)"/>
       <use href="#NotoSansCJKjp-Regular-2d" transform="translate(110.999969 0)"/>
       <use href="#NotoSansCJKjp-Regular-31" transform="translate(145.699966 0)"/>
       <use href="#NotoSansCJKjp-Regular-39" transform="translate(201.199951 0)"/>
      </g>
     </g>
    </g>
    <g id="xtick_12">
     <g id="line2d_85">
      <g>
       <use href="#mece1487864" x="228.52512" y="269.208" style="fill: #4b5563; stroke: #4b5563"/>
      </g>
     </g>
     <g id="text_8">
      <!-- 01-29 -->
      <g style="fill: #4b5563; stroke: #4b5563; stroke-width: 135.5; stroke-linejoin: round" transform="translate(208.526643 295.057251) rotate(-35) scale(0.085 -0.085)">
       <use href="#NotoSansCJKjp-Regular-30"/>
       <use href="#NotoSansCJKjp-Regular-31" transform="translate(55.499985 0)"/>
       <use href="#NotoSansCJKjp-Regular-2d" transform="translate(110.999969 0)"/>
       <use href="#NotoSansCJKjp-Regular-32" transform="translate(145.699966 0)"/>
       <use href="#NotoSansCJKjp-Regular-39" transform="translate(201.199951 0)"/>
      </g>
     </g>
    </g>
    <g id="xtick_13">
     <g id="line2d_86">
      <g>
       <use href="#mece1487864" x="289.90368" y="269.208" style="fill: #4b5563; stroke: #4b5563"/>
      </g>
     </g>
     <g id="text_9">
      <!-- 02-10 -->
      <g style="fill: #4b5563; stroke: #4b5563; stroke-width: 135.5; stroke-linejoin: round" transform="translate(269.905203 295.057251) rotate(-35) scale(0.085 -0.085)">
       <use href="#NotoSansCJKjp-Regular-30"/>
       <use href="#NotoSansCJKjp-Regular-32" transform="translate(55.499985 0)"/>
       <use href="#NotoSansCJKjp-Regular-2d" transform="translate(110.999969 0)"/>
       <use href="#NotoSansCJKjp-Regular-31" transform="translate(145.699966 0)"/>
       <use href="#NotoSansCJKjp-Regular-30" transform="translate(201.199951 0)"/>
      </g>
     </g>
    </g>
    <g id="xtick_14">
     <g id="line2d_87">
      <g>
       <use href="#mece1487864" x="351.28224" y="269.208" style="fill: #4b5563; stroke: #4b5563"/>
      </g>
     </g>
     <g id="text_10">
      <!-- 02-25 -->
      <g style="fill: #4b5563; stroke: #4b5563; stroke-width: 135.5; stroke-linejoin: round" transform="translate(331.283763 295.057251) rotate(-35) scale(0.085 -0.085)">
       <defs>
        <path id="NotoSansCJKjp-Regular-35" d="M 1677 -83 
C 2464 -83 3213 499 3213 1523 
C 3213 2560 2573 3021 1798 3021 
C 1517 3021 1306 2950 1094 2835 
L 1216 4192 
L 2982 4192 
L 2982 4691 
L 704 4691 
L 550 2502 
L 864 2304 
C 1133 2483 1331 2579 1645 2579 
C 2234 2579 2618 2182 2618 1510 
C 2618 826 2176 403 1619 403 
C 1075 403 730 653 467 922 
L 173 538 
C 493 224 941 -83 1677 -83 
z
" transform="scale(0.015625)"/>
       </defs>
       <use href="#NotoSansCJKjp-Regular-30"/>
       <use href="#NotoSansCJKjp-Regular-32" transform="translate(55.499985 0)"/>
       <use href="#NotoSansCJKjp-Regular-2d" transform="translate(110.999969 0)"/>
       <use href="#NotoSansCJKjp-Regular-32" transform="translate(145.699966 0)"/>
       <use href="#NotoSansCJKjp-Regular-35" transform="translate(201.199951 0)"/>
      </g>
     </g>
    </g>
    <g id="xtick_15">
     <g id="line2d_88">
      <g>
       <use href="#mece1487864" x="412.6608" y="269.208" style="fill: #4b5563; stroke: #4b5563"/>
      </g>
     </g>
     <g id="text_11">
      <!-- 03-10 -->
      <g style="fill: #4b5563; stroke: #4b5563; stroke-width: 135.5; stroke-linejoin: round" transform="translate(392.662323 295.057251) rotate(-35) scale(0.085 -0.085)">
       <defs>
        <path id="NotoSansCJKjp-Regular-33" d="M 1683 -83 
C 2522 -83 3194 416 3194 1254 
C 3194 1901 2752 2310 2202 2445 
L 2202 2477 
C 2701 2650 3034 3034 3034 3603 
C 3034 4346 2458 4774 1664 4774 
C 1126 4774 710 4538 358 4218 
L 672 3846 
C 941 4115 1267 4301 1645 4301 
C 2138 4301 2438 4006 2438 3558 
C 2438 3053 2112 2662 1139 2662 
L 1139 2214 
C 2227 2214 2598 1843 2598 1274 
C 2598 736 2208 403 1645 403 
C 1114 403 762 659 486 941 
L 186 563 
C 493 224 954 -83 1683 -83 
z
" transform="scale(0.015625)"/>
       </defs>
       <use href="#NotoSansCJKjp-Regular-30"/>
       <use href="#NotoSansCJKjp-Regular-33" transform="translate(55.499985 0)"/>
       <use href="#NotoSansCJKjp-Regular-2d" transform="translate(110.999969 0)"/>
       <use href="#NotoSansCJKjp-Regular-31" transform="translate(145.699966 0)"/>
       <use href="#NotoSansCJKjp-Regular-30" transform="translate(201.199951 0)"/>
      </g>
     </g>
    </g>
    <g id="xtick_16">
     <g id="line2d_89">
      <g>
       <use href="#mece1487864" x="474.03936" y="269.208" style="fill: #4b5563; stroke: #4b5563"/>
      </g>
     </g>
     <g id="text_12">
      <!-- 03-20 -->
      <g style="fill: #4b5563; stroke: #4b5563; stroke-width: 135.5; stroke-linejoin: round" transform="translate(454.040883 295.057251) rotate(-35) scale(0.085 -0.085)">
       <use href="#NotoSansCJKjp-Regular-30"/>
       <use href="#NotoSansCJKjp-Regular-33" transform="translate(55.499985 0)"/>
       <use href="#NotoSansCJKjp-Regular-2d" transform="translate(110.999969 0)"/>
       <use href="#NotoSansCJKjp-Regular-32" transform="translate(145.699966 0)"/>
       <use href="#NotoSansCJKjp-Regular-30" transform="translate(201.199951 0)"/>
      </g>
     </g>
    </g>
    <g id="xtick_17">
     <g id="line2d_90">
      <g>
       <use href="#mece1487864" x="535.41792" y="269.208" style="fill: #4b5563; stroke: #4b5563"/>
      </g>
     </g>
     <g id="text_13">
      <!-- 04-01 -->
      <g style="fill: #4b5563; stroke: #4b5563; stroke-width: 135.5; stroke-linejoin: round" transform="translate(515.419443 295.057251) rotate(-35) scale(0.085 -0.085)">
       <use href="#NotoSansCJKjp-Regular-30"/>
       <use href="#NotoSansCJKjp-Regular-34" transform="translate(55.499985 0)"/>
       <use href="#NotoSansCJKjp-Regular-2d" transform="translate(110.999969 0)"/>
       <use href="#NotoSansCJKjp-Regular-30" transform="translate(145.699966 0)"/>
       <use href="#NotoSansCJKjp-Regular-31" transform="translate(201.199951 0)"/>
      </g>
     </g>
    </g>
    <g id="xtick_18">
     <g id="line2d_91">
      <g>
       <use href="#mece1487864" x="558.43488" y="269.208" style="fill: #4b5563; stroke: #4b5563"/>
      </g>
     </g>
     <g id="text_14">
      <!-- 04-06 -->
      <g style="fill: #4b5563; stroke: #4b5563; stroke-width: 135.5; stroke-linejoin: round" transform="translate(538.436403 295.057251) rotate(-35) scale(0.085 -0.085)">
       <use href="#NotoSansCJKjp-Regular-30"/>
       <use href="#NotoSansCJKjp-Regular-34" transform="translate(55.499985 0)"/>
       <use href="#NotoSansCJKjp-Regular-2d" transform="translate(110.999969 0)"/>
       <use href="#NotoSansCJKjp-Regular-30" transform="translate(145.699966 0)"/>
       <use href="#NotoSansCJKjp-Regular-36" transform="translate(201.199951 0)"/>
      </g>
     </g>
    </g>
   </g>
   <g id="matplotlib.axis_4">
    <g id="ytick_6">
     <g id="line2d_92">
      <g>
       <use href="#m3193ca7169" x="81" y="269.208" style="fill: #4b5563; stroke: #4b5563"/>
      </g>
     </g>
     <g id="text_15">
      <!-- 0 -->
      <g style="fill: #4b5563; stroke: #4b5563; stroke-width: 128.0; stroke-linejoin: round" transform="translate(69.005 272.789719) scale(0.09 -0.09)">
       <use href="#NotoSansCJKjp-Regular-30"/>
      </g>
     </g>
    </g>
    <g id="ytick_7">
     <g id="line2d_93">
      <g>
       <use href="#m3193ca7169" x="81" y="239.184" style="fill: #4b5563; stroke: #4b5563"/>
      </g>
     </g>
     <g id="text_16">
      <!-- 1.0M -->
      <g style="fill: #4b5563; stroke: #4b5563; stroke-width: 128.0; stroke-linejoin: round" transform="translate(54.2 242.765719) scale(0.09 -0.09)">
       <defs>
        <path id="NotoSansCJKjp-Regular-2e" d="M 890 -83 
C 1120 -83 1312 96 1312 358 
C 1312 627 1120 806 890 806 
C 653 806 467 627 467 358 
C 467 96 653 -83 890 -83 
z
" transform="scale(0.015625)"/>
        <path id="NotoSansCJKjp-Regular-4d" d="M 646 0 
L 1178 0 
L 1178 2598 
C 1178 3002 1139 3571 1101 3981 
L 1126 3981 
L 1504 2912 
L 2394 474 
L 2790 474 
L 3674 2912 
L 4051 3981 
L 4077 3981 
C 4045 3571 4000 3002 4000 2598 
L 4000 0 
L 4550 0 
L 4550 4691 
L 3840 4691 
L 2944 2182 
C 2835 1862 2739 1530 2618 1203 
L 2592 1203 
C 2477 1530 2374 1862 2253 2182 
L 1357 4691 
L 646 4691 
L 646 0 
z
" transform="scale(0.015625)"/>
       </defs>
       <use href="#NotoSansCJKjp-Regular-31"/>
       <use href="#NotoSansCJKjp-Regular-2e" transform="translate(55.499985 0)"/>
       <use href="#NotoSansCJKjp-Regular-30" transform="translate(83.299973 0)"/>
       <use href="#NotoSansCJKjp-Regular-4d" transform="translate(138.799957 0)"/>
      </g>
     </g>
    </g>
   </g>
   <g id="patch_66">
    <path d="M 81 269.208 
L 81 214.704 
" style="fill: none; stroke: #d1d5db; stroke-linejoin: miter; stroke-linecap: square"/>
   </g>
   <g id="patch_67">
    <path d="M 81 269.208 
L 583.56 269.208 
" style="fill: none; stroke: #d1d5db; stroke-linejoin: miter; stroke-linecap: square"/>
   </g>
   <g id="patch_68">
    <path d="M 103.8564 260.7444 
L 107.8236 260.7444 
L 107.8236 269.208 
L 103.8564 269.208 
z
" clip-path="url(#pa4df5e8719)" style="fill: #dc2626; opacity: 0.55; stroke: #dc2626; stroke-width: 0.5; stroke-linejoin: miter"/>
   </g>
   <g id="patch_69">
    <path d="M 111.52872 217.7604 
L 115.49592 217.7604 
L 115.49592 269.208 
L 111.52872 269.208 
z
" clip-path="url(#pa4df5e8719)" style="fill: #dc2626; opacity: 0.55; stroke: #dc2626; stroke-width: 0.5; stroke-linejoin: miter"/>
   </g>
   <g id="patch_70">
    <path d="M 119.20104 258.9444 
L 123.16824 258.9444 
L 123.16824 269.208 
L 119.20104 269.208 
z
" clip-path="url(#pa4df5e8719)" style="fill: #2563eb; opacity: 0.55; stroke: #2563eb; stroke-width: 0.5; stroke-linejoin: miter"/>
   </g>
   <g id="patch_71">
    <path d="M 126.87336 243.6804 
L 130.84056 243.6804 
L 130.84056 269.208 
L 126.87336 269.208 
z
" clip-path="url(#pa4df5e8719)" style="fill: #dc2626; opacity: 0.55; stroke: #dc2626; stroke-width: 0.5; stroke-linejoin: miter"/>
   </g>
   <g id="patch_72">
    <path d="M 134.54568 254.4804 
L 138.51288 254.4804 
L 138.51288 269.208 
L 134.54568 269.208 
z
" clip-path="url(#pa4df5e8719)" style="fill: #2563eb; opacity: 0.55; stroke: #2563eb; stroke-width: 0.5; stroke-linejoin: miter"/>
   </g>
   <g id="patch_73">
    <path d="M 142.218 260.7444 
L 146.1852 260.7444 
L 146.1852 269.208 
L 142.218 269.208 
z
" clip-path="url(#pa4df5e8719)" style="fill: #2563eb; opacity: 0.55; stroke: #2563eb; stroke-width: 0.5; stroke-linejoin: miter"/>
   </g>
   <g id="patch_74">
    <path d="M 149.89032 253.6884 
L 153.85752 253.6884 
L 153.85752 269.208 
L 149.89032 269.208 
z
" clip-path="url(#pa4df5e8719)" style="fill: #2563eb; opacity: 0.55; stroke: #2563eb; stroke-width: 0.5; stroke-linejoin: miter"/>
   </g>
   <g id="patch_75">
    <path d="M 157.56264 230.1444 
L 161.52984 230.1444 
L 161.52984 269.208 
L 157.56264 269.208 
z
" clip-path="url(#pa4df5e8719)" style="fill: #dc2626; opacity: 0.55; stroke: #dc2626; stroke-width: 0.5; stroke-linejoin: miter"/>
   </g>
   <g id="patch_76">
    <path d="M 165.23496 250.9524 
L 169.20216 250.9524 
L 169.20216 269.208 
L 165.23496 269.208 
z
" clip-path="url(#pa4df5e8719)" style="fill: #dc2626; opacity: 0.55; stroke: #dc2626; stroke-width: 0.5; stroke-linejoin: miter"/>
   </g>
   <g id="patch_77">
    <path d="M 172.90728 256.0644 
L 176.87448 256.0644 
L 176.87448 269.208 
L 172.90728 269.208 
z
" clip-path="url(#pa4df5e8719)" style="fill: #2563eb; opacity: 0.55; stroke: #2563eb; stroke-width: 0.5; stroke-linejoin: miter"/>
   </g>
   <g id="patch_78">
    <path d="M 180.5796 252.8244 
L 184.5468 252.8244 
L 184.5468 269.208 
L 180.5796 269.208 
z
" clip-path="url(#pa4df5e8719)" style="fill: #2563eb; opacity: 0.55; stroke: #2563eb; stroke-width: 0.5; stroke-linejoin: miter"/>
   </g>
   <g id="patch_79">
    <path d="M 188.25192 256.0644 
L 192.21912 256.0644 
L 192.21912 269.208 
L 188.25192 269.208 
z
" clip-path="url(#pa4df5e8719)" style="fill: #2563eb; opacity: 0.55; stroke: #2563eb; stroke-width: 0.5; stroke-linejoin: miter"/>
   </g>
   <g id="patch_80">
    <path d="M 195.92424 261.4644 
L 199.89144 261.4644 
L 199.89144 269.208 
L 195.92424 269.208 
z
" clip-path="url(#pa4df5e8719)" style="fill: #dc2626; opacity: 0.55; stroke: #dc2626; stroke-width: 0.5; stroke-linejoin: miter"/>
   </g>
   <g id="patch_81">
    <path d="M 203.59656 252.6804 
L 207.56376 252.6804 
L 207.56376 269.208 
L 203.59656 269.208 
z
" clip-path="url(#pa4df5e8719)" style="fill: #dc2626; opacity: 0.55; stroke: #dc2626; stroke-width: 0.5; stroke-linejoin: miter"/>
   </g>
   <g id="patch_82">
    <path d="M 211.26888 259.6644 
L 215.23608 259.6644 
L 215.23608 269.208 
L 211.26888 269.208 
z
" clip-path="url(#pa4df5e8719)" style="fill: #2563eb; opacity: 0.55; stroke: #2563eb; stroke-width: 0.5; stroke-linejoin: miter"/>
   </g>
   <g id="patch_83">
    <path d="M 218.9412 257.6484 
L 222.9084 257.6484 
L 222.9084 269.208 
L 218.9412 269.208 
z
" clip-path="url(#pa4df5e8719)" style="fill: #2563eb; opacity: 0.55; stroke: #2563eb; stroke-width: 0.5; stroke-linejoin: miter"/>
   </g>
   <g id="patch_84">
    <path d="M 226.61352 260.4564 
L 230.58072 260.4564 
L 230.58072 269.208 
L 226.61352 269.208 
z
" clip-path="url(#pa4df5e8719)" style="fill: #dc2626; opacity: 0.55; stroke: #dc2626; stroke-width: 0.5; stroke-linejoin: miter"/>
   </g>
   <g id="patch_85">
    <path d="M 234.28584 252.9684 
L 238.25304 252.9684 
L 238.25304 269.208 
L 234.28584 269.208 
z
" clip-path="url(#pa4df5e8719)" style="fill: #2563eb; opacity: 0.55; stroke: #2563eb; stroke-width: 0.5; stroke-linejoin: miter"/>
   </g>
   <g id="patch_86">
    <path d="M 241.95816 258.5124 
L 245.92536 258.5124 
L 245.92536 269.208 
L 241.95816 269.208 
z
" clip-path="url(#pa4df5e8719)" style="fill: #2563eb; opacity: 0.55; stroke: #2563eb; stroke-width: 0.5; stroke-linejoin: miter"/>
   </g>
   <g id="patch_87">
    <path d="M 249.63048 260.6004 
L 253.59768 260.6004 
L 253.59768 269.208 
L 249.63048 269.208 
z
" clip-path="url(#pa4df5e8719)" style="fill: #2563eb; opacity: 0.55; stroke: #2563eb; stroke-width: 0.5; stroke-linejoin: miter"/>
   </g>
   <g id="patch_88">
    <path d="M 257.3028 259.6644 
L 261.27 259.6644 
L 261.27 269.208 
L 257.3028 269.208 
z
" clip-path="url(#pa4df5e8719)" style="fill: #2563eb; opacity: 0.55; stroke: #2563eb; stroke-width: 0.5; stroke-linejoin: miter"/>
   </g>
   <g id="patch_89">
    <path d="M 264.97512 255.2004 
L 268.94232 255.2004 
L 268.94232 269.208 
L 264.97512 269.208 
z
" clip-path="url(#pa4df5e8719)" style="fill: #2563eb; opacity: 0.55; stroke: #2563eb; stroke-width: 0.5; stroke-linejoin: miter"/>
   </g>
   <g id="patch_90">
    <path d="M 272.64744 257.3604 
L 276.61464 257.3604 
L 276.61464 269.208 
L 272.64744 269.208 
z
" clip-path="url(#pa4df5e8719)" style="fill: #2563eb; opacity: 0.55; stroke: #2563eb; stroke-width: 0.5; stroke-linejoin: miter"/>
   </g>
   <g id="patch_91">
    <path d="M 280.31976 262.3284 
L 284.28696 262.3284 
L 284.28696 269.208 
L 280.31976 269.208 
z
" clip-path="url(#pa4df5e8719)" style="fill: #dc2626; opacity: 0.55; stroke: #dc2626; stroke-width: 0.5; stroke-linejoin: miter"/>
   </g>
   <g id="patch_92">
    <path d="M 287.99208 257.2164 
L 291.95928 257.2164 
L 291.95928 269.208 
L 287.99208 269.208 
z
" clip-path="url(#pa4df5e8719)" style="fill: #dc2626; opacity: 0.55; stroke: #dc2626; stroke-width: 0.5; stroke-linejoin: miter"/>
   </g>
   <g id="patch_93">
    <path d="M 295.6644 242.2404 
L 299.6316 242.2404 
L 299.6316 269.208 
L 295.6644 269.208 
z
" clip-path="url(#pa4df5e8719)" style="fill: #dc2626; opacity: 0.55; stroke: #dc2626; stroke-width: 0.5; stroke-linejoin: miter"/>
   </g>
   <g id="patch_94">
    <path d="M 303.33672 246.1284 
L 307.30392 246.1284 
L 307.30392 269.208 
L 303.33672 269.208 
z
" clip-path="url(#pa4df5e8719)" style="fill: #dc2626; opacity: 0.55; stroke: #dc2626; stroke-width: 0.5; stroke-linejoin: miter"/>
   </g>
   <g id="patch_95">
    <path d="M 311.00904 260.8884 
L 314.97624 260.8884 
L 314.97624 269.208 
L 311.00904 269.208 
z
" clip-path="url(#pa4df5e8719)" style="fill: #2563eb; opacity: 0.55; stroke: #2563eb; stroke-width: 0.5; stroke-linejoin: miter"/>
   </g>
   <g id="patch_96">
    <path d="M 318.68136 263.0484 
L 322.64856 263.0484 
L 322.64856 269.208 
L 318.68136 269.208 
z
" clip-path="url(#pa4df5e8719)" style="fill: #2563eb; opacity: 0.55; stroke: #2563eb; stroke-width: 0.5; stroke-linejoin: miter"/>
   </g>
   <g id="patch_97">
    <path d="M 326.35368 256.7844 
L 330.32088 256.7844 
L 330.32088 269.208 
L 326.35368 269.208 
z
" clip-path="url(#pa4df5e8719)" style="fill: #2563eb; opacity: 0.55; stroke: #2563eb; stroke-width: 0.5; stroke-linejoin: miter"/>
   </g>
   <g id="patch_98">
    <path d="M 334.026 250.8084 
L 337.9932 250.8084 
L 337.9932 269.208 
L 334.026 269.208 
z
" clip-path="url(#pa4df5e8719)" style="fill: #dc2626; opacity: 0.55; stroke: #dc2626; stroke-width: 0.5; stroke-linejoin: miter"/>
   </g>
   <g id="patch_99">
    <path d="M 341.69832 262.0404 
L 345.66552 262.0404 
L 345.66552 269.208 
L 341.69832 269.208 
z
" clip-path="url(#pa4df5e8719)" style="fill: #2563eb; opacity: 0.55; stroke: #2563eb; stroke-width: 0.5; stroke-linejoin: miter"/>
   </g>
   <g id="patch_100">
    <path d="M 349.37064 263.7684 
L 353.33784 263.7684 
L 353.33784 269.208 
L 349.37064 269.208 
z
" clip-path="url(#pa4df5e8719)" style="fill: #dc2626; opacity: 0.55; stroke: #dc2626; stroke-width: 0.5; stroke-linejoin: miter"/>
   </g>
   <g id="patch_101">
    <path d="M 357.04296 263.7684 
L 361.01016 263.7684 
L 361.01016 269.208 
L 357.04296 269.208 
z
" clip-path="url(#pa4df5e8719)" style="fill: #2563eb; opacity: 0.55; stroke: #2563eb; stroke-width: 0.5; stroke-linejoin: miter"/>
   </g>
   <g id="patch_102">
    <path d="M 364.71528 241.9524 
L 368.68248 241.9524 
L 368.68248 269.208 
L 364.71528 269.208 
z
" clip-path="url(#pa4df5e8719)" style="fill: #dc2626; opacity: 0.55; stroke: #dc2626; stroke-width: 0.5; stroke-linejoin: miter"/>
   </g>
   <g id="patch_103">
    <path d="M 372.3876 241.5204 
L 376.3548 241.5204 
L 376.3548 269.208 
L 372.3876 269.208 
z
" clip-path="url(#pa4df5e8719)" style="fill: #dc2626; opacity: 0.55; stroke: #dc2626; stroke-width: 0.5; stroke-linejoin: miter"/>
   </g>
   <g id="patch_104">
    <path d="M 380.05992 250.8084 
L 384.02712 250.8084 
L 384.02712 269.208 
L 380.05992 269.208 
z
" clip-path="url(#pa4df5e8719)" style="fill: #2563eb; opacity: 0.55; stroke: #2563eb; stroke-width: 0.5; stroke-linejoin: miter"/>
   </g>
   <g id="patch_105">
    <path d="M 387.73224 254.1924 
L 391.69944 254.1924 
L 391.69944 269.208 
L 387.73224 269.208 
z
" clip-path="url(#pa4df5e8719)" style="fill: #dc2626; opacity: 0.55; stroke: #dc2626; stroke-width: 0.5; stroke-linejoin: miter"/>
   </g>
   <g id="patch_106">
    <path d="M 395.40456 253.4004 
L 399.37176 253.4004 
L 399.37176 269.208 
L 395.40456 269.208 
z
" clip-path="url(#pa4df5e8719)" style="fill: #dc2626; opacity: 0.55; stroke: #dc2626; stroke-width: 0.5; stroke-linejoin: miter"/>
   </g>
   <g id="patch_107">
    <path d="M 403.07688 255.6324 
L 407.04408 255.6324 
L 407.04408 269.208 
L 403.07688 269.208 
z
" clip-path="url(#pa4df5e8719)" style="fill: #2563eb; opacity: 0.55; stroke: #2563eb; stroke-width: 0.5; stroke-linejoin: miter"/>
   </g>
   <g id="patch_108">
    <path d="M 410.7492 235.6884 
L 414.7164 235.6884 
L 414.7164 269.208 
L 410.7492 269.208 
z
" clip-path="url(#pa4df5e8719)" style="fill: #dc2626; opacity: 0.55; stroke: #dc2626; stroke-width: 0.5; stroke-linejoin: miter"/>
   </g>
   <g id="patch_109">
    <path d="M 418.42152 223.1604 
L 422.38872 223.1604 
L 422.38872 269.208 
L 418.42152 269.208 
z
" clip-path="url(#pa4df5e8719)" style="fill: #dc2626; opacity: 0.55; stroke: #dc2626; stroke-width: 0.5; stroke-linejoin: miter"/>
   </g>
   <g id="patch_110">
    <path d="M 426.09384 242.9604 
L 430.06104 242.9604 
L 430.06104 269.208 
L 426.09384 269.208 
z
" clip-path="url(#pa4df5e8719)" style="fill: #dc2626; opacity: 0.55; stroke: #dc2626; stroke-width: 0.5; stroke-linejoin: miter"/>
   </g>
   <g id="patch_111">
    <path d="M 433.76616 256.7844 
L 437.73336 256.7844 
L 437.73336 269.208 
L 433.76616 269.208 
z
" clip-path="url(#pa4df5e8719)" style="fill: #dc2626; opacity: 0.55; stroke: #dc2626; stroke-width: 0.5; stroke-linejoin: miter"/>
   </g>
   <g id="patch_112">
    <path d="M 441.43848 259.5204 
L 445.40568 259.5204 
L 445.40568 269.208 
L 441.43848 269.208 
z
" clip-path="url(#pa4df5e8719)" style="fill: #2563eb; opacity: 0.55; stroke: #2563eb; stroke-width: 0.5; stroke-linejoin: miter"/>
   </g>
   <g id="patch_113">
    <path d="M 449.1108 261.7524 
L 453.078 261.7524 
L 453.078 269.208 
L 449.1108 269.208 
z
" clip-path="url(#pa4df5e8719)" style="fill: #2563eb; opacity: 0.55; stroke: #2563eb; stroke-width: 0.5; stroke-linejoin: miter"/>
   </g>
   <g id="patch_114">
    <path d="M 456.78312 242.9604 
L 460.75032 242.9604 
L 460.75032 269.208 
L 456.78312 269.208 
z
" clip-path="url(#pa4df5e8719)" style="fill: #dc2626; opacity: 0.55; stroke: #dc2626; stroke-width: 0.5; stroke-linejoin: miter"/>
   </g>
   <g id="patch_115">
    <path d="M 464.45544 252.6804 
L 468.42264 252.6804 
L 468.42264 269.208 
L 464.45544 269.208 
z
" clip-path="url(#pa4df5e8719)" style="fill: #2563eb; opacity: 0.55; stroke: #2563eb; stroke-width: 0.5; stroke-linejoin: miter"/>
   </g>
   <g id="patch_116">
    <path d="M 472.12776 246.1284 
L 476.09496 246.1284 
L 476.09496 269.208 
L 472.12776 269.208 
z
" clip-path="url(#pa4df5e8719)" style="fill: #dc2626; opacity: 0.55; stroke: #dc2626; stroke-width: 0.5; stroke-linejoin: miter"/>
   </g>
   <g id="patch_117">
    <path d="M 479.80008 254.9124 
L 483.76728 254.9124 
L 483.76728 269.208 
L 479.80008 269.208 
z
" clip-path="url(#pa4df5e8719)" style="fill: #2563eb; opacity: 0.55; stroke: #2563eb; stroke-width: 0.5; stroke-linejoin: miter"/>
   </g>
   <g id="patch_118">
    <path d="M 487.4724 256.9284 
L 491.4396 256.9284 
L 491.4396 269.208 
L 487.4724 269.208 
z
" clip-path="url(#pa4df5e8719)" style="fill: #2563eb; opacity: 0.55; stroke: #2563eb; stroke-width: 0.5; stroke-linejoin: miter"/>
   </g>
   <g id="patch_119">
    <path d="M 495.14472 256.9284 
L 499.11192 256.9284 
L 499.11192 269.208 
L 495.14472 269.208 
z
" clip-path="url(#pa4df5e8719)" style="fill: #2563eb; opacity: 0.55; stroke: #2563eb; stroke-width: 0.5; stroke-linejoin: miter"/>
   </g>
   <g id="patch_120">
    <path d="M 502.81704 253.6884 
L 506.78424 253.6884 
L 506.78424 269.208 
L 502.81704 269.208 
z
" clip-path="url(#pa4df5e8719)" style="fill: #dc2626; opacity: 0.55; stroke: #dc2626; stroke-width: 0.5; stroke-linejoin: miter"/>
   </g>
   <g id="patch_121">
    <path d="M 510.48936 260.1684 
L 514.45656 260.1684 
L 514.45656 269.208 
L 510.48936 269.208 
z
" clip-path="url(#pa4df5e8719)" style="fill: #2563eb; opacity: 0.55; stroke: #2563eb; stroke-width: 0.5; stroke-linejoin: miter"/>
   </g>
   <g id="patch_122">
    <path d="M 518.16168 236.4084 
L 522.12888 236.4084 
L 522.12888 269.208 
L 518.16168 269.208 
z
" clip-path="url(#pa4df5e8719)" style="fill: #dc2626; opacity: 0.55; stroke: #dc2626; stroke-width: 0.5; stroke-linejoin: miter"/>
   </g>
   <g id="patch_123">
    <path d="M 525.834 258.3684 
L 529.8012 258.3684 
L 529.8012 269.208 
L 525.834 269.208 
z
" clip-path="url(#pa4df5e8719)" style="fill: #2563eb; opacity: 0.55; stroke: #2563eb; stroke-width: 0.5; stroke-linejoin: miter"/>
   </g>
   <g id="patch_124">
    <path d="M 533.50632 240.7284 
L 537.47352 240.7284 
L 537.47352 269.208 
L 533.50632 269.208 
z
" clip-path="url(#pa4df5e8719)" style="fill: #dc2626; opacity: 0.55; stroke: #dc2626; stroke-width: 0.5; stroke-linejoin: miter"/>
   </g>
   <g id="patch_125">
    <path d="M 541.17864 252.5364 
L 545.14584 252.5364 
L 545.14584 269.208 
L 541.17864 269.208 
z
" clip-path="url(#pa4df5e8719)" style="fill: #2563eb; opacity: 0.55; stroke: #2563eb; stroke-width: 0.5; stroke-linejoin: miter"/>
   </g>
   <g id="patch_126">
    <path d="M 548.85096 260.8884 
L 552.81816 260.8884 
L 552.81816 269.208 
L 548.85096 269.208 
z
" clip-path="url(#pa4df5e8719)" style="fill: #dc2626; opacity: 0.55; stroke: #dc2626; stroke-width: 0.5; stroke-linejoin: miter"/>
   </g>
   <g id="patch_127">
    <path d="M 556.52328 235.9764 
L 560.49048 235.9764 
L 560.49048 269.208 
L 556.52328 269.208 
z
" clip-path="url(#pa4df5e8719)" style="fill: #2563eb; opacity: 0.55; stroke: #2563eb; stroke-width: 0.5; stroke-linejoin: miter"/>
   </g>
  </g>
  <g id="line2d_94">
   <path d="M 88.056 48.24 
L 107.208 48.24 
" style="fill: none; stroke: #f59e0b; stroke-width: 1.8"/>
  </g>
  <g id="line2d_95">
   <path d="M 88.056 61.92 
L 107.208 61.92 
" style="fill: none; stroke: #7c3aed; stroke-width: 1.8"/>
  </g>
  <g id="text_17">
   <!-- 5일선 -->
   <g style="fill: #111827; stroke: #111827; stroke-width: 108.4; stroke-linejoin: round" transform="translate(113.76 51.48) scale(0.085 -0.085)">
    <defs>
     <path id="NotoSansCJKjp-Regular-c77c" d="M 1946 5082 
C 1082 5082 448 4550 448 3795 
C 448 3040 1082 2515 1946 2515 
C 2810 2515 3437 3040 3437 3795 
C 3437 4550 2810 5082 1946 5082 
z
M 1946 4640 
C 2509 4640 2925 4294 2925 3795 
C 2925 3296 2509 2950 1946 2950 
C 1382 2950 966 3296 966 3795 
C 966 4294 1382 4640 1946 4640 
z
M 4531 5293 
L 4531 2330 
L 5062 2330 
L 5062 5293 
L 4531 5293 
z
M 1338 6 
L 1338 -422 
L 5261 -422 
L 5261 6 
L 1850 6 
L 1850 640 
L 5062 640 
L 5062 2042 
L 1318 2042 
L 1318 1619 
L 4538 1619 
L 4538 1037 
L 1338 1037 
L 1338 6 
z
" transform="scale(0.015625)"/>
     <path id="NotoSansCJKjp-Regular-c120" d="M 4550 5286 
L 4550 3930 
L 3290 3930 
L 3290 3488 
L 4550 3488 
L 4550 960 
L 5082 960 
L 5082 5286 
L 4550 5286 
z
M 1773 4941 
L 1773 4230 
C 1773 3341 1190 2528 326 2208 
L 608 1786 
C 1286 2054 1798 2605 2042 3296 
C 2291 2669 2784 2170 3418 1920 
L 3706 2336 
C 2867 2643 2298 3405 2298 4211 
L 2298 4941 
L 1773 4941 
z
M 1363 1440 
L 1363 -371 
L 5216 -371 
L 5216 64 
L 1894 64 
L 1894 1440 
L 1363 1440 
z
" transform="scale(0.015625)"/>
    </defs>
    <use href="#NotoSansCJKjp-Regular-35"/>
    <use href="#NotoSansCJKjp-Regular-c77c" transform="translate(55.499985 0)"/>
    <use href="#NotoSansCJKjp-Regular-c120" transform="translate(147.499969 0)"/>
   </g>
  </g>
  <g id="text_18">
   <!-- 20일선 -->
   <g style="fill: #111827; stroke: #111827; stroke-width: 108.4; stroke-linejoin: round" transform="translate(113.76 64.944) scale(0.085 -0.085)">
    <use href="#NotoSansCJKjp-Regular-32"/>
    <use href="#NotoSansCJKjp-Regular-30" transform="translate(55.499985 0)"/>
    <use href="#NotoSansCJKjp-Regular-c77c" transform="translate(110.999969 0)"/>
    <use href="#NotoSansCJKjp-Regular-c120" transform="translate(202.999954 0)"/>
   </g>
  </g>
  <g id="text_19">
   <!-- 원 -->
   <g style="fill: #4b5563; stroke: #4b5563; stroke-width: 115.2; stroke-linejoin: round" transform="translate(35.162375 128.656) rotate(-90) scale(0.1 -0.1)">
    <defs>
     <path id="NotoSansCJKjp-Regular-c6d0" d="M 2170 5056 
C 1325 5056 749 4653 749 4045 
C 749 3430 1325 3040 2170 3040 
C 3014 3040 3590 3430 3590 4045 
C 3590 4653 3014 5056 2170 5056 
z
M 2170 4659 
C 2707 4659 3085 4416 3085 4045 
C 3085 3674 2707 3437 2170 3437 
C 1626 3437 1248 3674 1248 4045 
C 1248 4416 1626 4659 2170 4659 
z
M 358 2176 
C 832 2176 1382 2182 1958 2202 
L 1958 1088 
L 2490 1088 
L 2490 2234 
C 3014 2266 3552 2317 4058 2400 
L 4019 2784 
C 2790 2630 1357 2618 288 2611 
L 358 2176 
z
M 3347 1869 
L 3347 1485 
L 4525 1485 
L 4525 890 
L 5056 890 
L 5056 5286 
L 4525 5286 
L 4525 1869 
L 3347 1869 
z
M 1107 1318 
L 1107 -371 
L 5197 -371 
L 5197 64 
L 1638 64 
L 1638 1318 
L 1107 1318 
z
" transform="scale(0.015625)"/>
    </defs>
    <use href="#NotoSansCJKjp-Regular-c6d0"/>
   </g>
  </g>
  <g id="text_20">
   <!-- 주 -->
   <g style="fill: #4b5563; stroke: #4b5563; stroke-width: 115.2; stroke-linejoin: round" transform="translate(47.546375 247.384) rotate(-90) scale(0.1 -0.1)">
    <defs>
     <path id="NotoSansCJKjp-Regular-c8fc" d="M 813 4928 
L 813 4506 
L 2637 4506 
L 2637 4474 
C 2637 3712 1645 3053 627 2906 
L 832 2483 
C 1728 2637 2586 3117 2931 3808 
C 3283 3117 4141 2637 5043 2483 
L 5242 2906 
C 4224 3053 3232 3712 3232 4474 
L 3232 4506 
L 5050 4506 
L 5050 4928 
L 813 4928 
z
M 320 1997 
L 320 1562 
L 2662 1562 
L 2662 -493 
L 3187 -493 
L 3187 1562 
L 5549 1562 
L 5549 1997 
L 320 1997 
z
" transform="scale(0.015625)"/>
    </defs>
    <use href="#NotoSansCJKjp-Regular-c8fc"/>
   </g>
  </g>
  <g id="text_21">
   <!-- 60일 주가·거래량 추이 -->
   <g style="fill: #111827" transform="translate(264.961344 28.44) scale(0.14 -0.14)">
    <defs>
     <path id="NotoSansCJKjp-Bold-36" d="M 2022 -90 
C 2829 -90 3507 525 3507 1498 
C 3507 2509 2938 2982 2144 2982 
C 1843 2982 1440 2803 1178 2483 
C 1222 3661 1664 4070 2214 4070 
C 2483 4070 2771 3910 2938 3725 
L 3437 4288 
C 3155 4582 2733 4826 2150 4826 
C 1197 4826 320 4070 320 2304 
C 320 640 1126 -90 2022 -90 
z
M 1197 1818 
C 1434 2176 1722 2317 1971 2317 
C 2381 2317 2650 2061 2650 1498 
C 2650 922 2362 621 2003 621 
C 1606 621 1286 954 1197 1818 
z
" transform="scale(0.015625)"/>
     <path id="NotoSansCJKjp-Bold-30" d="M 1888 -90 
C 2854 -90 3494 755 3494 2394 
C 3494 4019 2854 4826 1888 4826 
C 922 4826 282 4026 282 2394 
C 282 755 922 -90 1888 -90 
z
M 1888 646 
C 1478 646 1171 1056 1171 2394 
C 1171 3712 1478 4102 1888 4102 
C 2298 4102 2598 3712 2598 2394 
C 2598 1056 2298 646 1888 646 
z
" transform="scale(0.015625)"/>
     <path id="NotoSansCJKjp-Bold-c77c" d="M 1926 5190 
C 1024 5190 346 4627 346 3834 
C 346 3046 1024 2483 1926 2483 
C 2835 2483 3514 3046 3514 3834 
C 3514 4627 2835 5190 1926 5190 
z
M 1926 4499 
C 2368 4499 2688 4256 2688 3834 
C 2688 3411 2368 3168 1926 3168 
C 1491 3168 1171 3411 1171 3834 
C 1171 4256 1491 4499 1926 4499 
z
M 4333 5357 
L 4333 2394 
L 5184 2394 
L 5184 5357 
L 4333 5357 
z
M 1242 160 
L 1242 -506 
L 5331 -506 
L 5331 160 
L 2080 160 
L 2080 531 
L 5184 531 
L 5184 2150 
L 1235 2150 
L 1235 1498 
L 4339 1498 
L 4339 1146 
L 1242 1146 
L 1242 160 
z
" transform="scale(0.015625)"/>
     <path id="NotoSansCJKjp-Bold-20" transform="scale(0.015625)"/>
     <path id="NotoSansCJKjp-Bold-c8fc" d="M 736 5056 
L 736 4384 
L 2438 4384 
C 2349 3821 1728 3245 518 3091 
L 832 2432 
C 1869 2566 2592 3014 2944 3616 
C 3296 3014 4019 2566 5056 2432 
L 5370 3091 
C 4166 3245 3539 3821 3450 4384 
L 5133 4384 
L 5133 5056 
L 736 5056 
z
M 262 2093 
L 262 1408 
L 2496 1408 
L 2496 -570 
L 3347 -570 
L 3347 1408 
L 5626 1408 
L 5626 2093 
L 262 2093 
z
" transform="scale(0.015625)"/>
     <path id="NotoSansCJKjp-Bold-ac00" d="M 4045 5370 
L 4045 -557 
L 4902 -557 
L 4902 2400 
L 5728 2400 
L 5728 3098 
L 4902 3098 
L 4902 5370 
L 4045 5370 
z
M 525 4755 
L 525 4070 
L 2458 4070 
C 2310 2752 1574 1818 198 1107 
L 678 461 
C 2650 1453 3328 2976 3328 4755 
L 525 4755 
z
" transform="scale(0.015625)"/>
     <path id="NotoSansCJKjp-Bold-b7" d="M 1888 1766 
C 2214 1766 2470 2035 2470 2381 
C 2470 2726 2214 2995 1888 2995 
C 1549 2995 1299 2726 1299 2381 
C 1299 2035 1549 1766 1888 1766 
z
" transform="scale(0.015625)"/>
     <path id="NotoSansCJKjp-Bold-ac70" d="M 3226 3091 
L 3226 2400 
L 4365 2400 
L 4365 -570 
L 5216 -570 
L 5216 5357 
L 4365 5357 
L 4365 3091 
L 3226 3091 
z
M 474 4749 
L 474 4070 
L 2400 4070 
C 2278 2778 1670 1856 192 1114 
L 640 454 
C 2694 1478 3264 2950 3264 4749 
L 474 4749 
z
" transform="scale(0.015625)"/>
     <path id="NotoSansCJKjp-Bold-b798" d="M 410 4781 
L 410 4109 
L 1837 4109 
L 1837 3162 
L 422 3162 
L 422 742 
L 838 742 
C 1562 742 2202 755 2957 883 
L 2893 1574 
C 2304 1485 1792 1453 1248 1440 
L 1248 2490 
L 2656 2490 
L 2656 4781 
L 410 4781 
z
M 3213 5261 
L 3213 -288 
L 4000 -288 
L 4000 2438 
L 4538 2438 
L 4538 -563 
L 5350 -563 
L 5350 5363 
L 4538 5363 
L 4538 3123 
L 4000 3123 
L 4000 5261 
L 3213 5261 
z
" transform="scale(0.015625)"/>
     <path id="NotoSansCJKjp-Bold-b7c9" d="M 2976 1683 
C 1741 1683 973 1267 973 557 
C 973 -154 1741 -570 2976 -570 
C 4218 -570 4979 -154 4979 557 
C 4979 1267 4218 1683 2976 1683 
z
M 2976 1037 
C 3750 1037 4147 883 4147 557 
C 4147 230 3750 77 2976 77 
C 2208 77 1811 230 1811 557 
C 1811 883 2208 1037 2976 1037 
z
M 4070 5363 
L 4070 1786 
L 4922 1786 
L 4922 2618 
L 5709 2618 
L 5709 3315 
L 4922 3315 
L 4922 3872 
L 5709 3872 
L 5709 4563 
L 4922 4563 
L 4922 5363 
L 4070 5363 
z
M 461 5011 
L 461 4333 
L 2330 4333 
L 2330 3859 
L 474 3859 
L 474 2035 
L 973 2035 
C 2163 2035 2918 2061 3744 2221 
L 3667 2899 
C 2938 2765 2285 2726 1312 2720 
L 1312 3226 
L 3168 3226 
L 3168 5011 
L 461 5011 
z
" transform="scale(0.015625)"/>
     <path id="NotoSansCJKjp-Bold-cd94" d="M 262 1811 
L 262 1120 
L 2509 1120 
L 2509 -576 
L 3360 -576 
L 3360 1120 
L 5626 1120 
L 5626 1811 
L 262 1811 
z
M 2509 5344 
L 2509 4685 
L 742 4685 
L 742 4013 
L 2490 4013 
C 2394 3494 1760 2925 531 2784 
L 832 2112 
C 1843 2234 2560 2637 2938 3174 
C 3315 2637 4026 2227 5037 2112 
L 5331 2784 
C 4115 2925 3475 3507 3373 4013 
L 5133 4013 
L 5133 4685 
L 3360 4685 
L 3360 5344 
L 2509 5344 
z
" transform="scale(0.015625)"/>
     <path id="NotoSansCJKjp-Bold-c774" d="M 4326 5370 
L 4326 -576 
L 5178 -576 
L 5178 5370 
L 4326 5370 
z
M 1984 4954 
C 1088 4954 429 4134 429 2835 
C 429 1536 1088 710 1984 710 
C 2886 710 3546 1536 3546 2835 
C 3546 4134 2886 4954 1984 4954 
z
M 1984 4179 
C 2426 4179 2726 3712 2726 2835 
C 2726 1952 2426 1485 1984 1485 
C 1542 1485 1248 1952 1248 2835 
C 1248 3712 1542 4179 1984 4179 
z
" transform="scale(0.015625)"/>
    </defs>
    <use href="#NotoSansCJKjp-Bold-36"/>
    <use href="#NotoSansCJKjp-Bold-30" transform="translate(58.999985 0)"/>
    <use href="#NotoSansCJKjp-Bold-c77c" transform="translate(117.999969 0)"/>
    <use href="#NotoSansCJKjp-Bold-20" transform="translate(209.999954 0)"/>
    <use href="#NotoSansCJKjp-Bold-c8fc" transform="translate(232.699951 0)"/>
    <use href="#NotoSansCJKjp-Bold-ac00" transform="translate(324.699936 0)"/>
    <use href="#NotoSansCJKjp-Bold-b7" transform="translate(416.699921 0)"/>
    <use href="#NotoSansCJKjp-Bold-ac70" transform="translate(475.899918 0)"/>
    <use href="#NotoSansCJKjp-Bold-b798" transform="translate(567.899902 0)"/>
    <use href="#NotoSansCJKjp-Bold-b7c9" transform="translate(659.899887 0)"/>
    <use href="#NotoSansCJKjp-Bold-20" transform="translate(751.899872 0)"/>
    <use href="#NotoSansCJKjp-Bold-cd94" transform="translate(774.599869 0)"/>
    <use href="#NotoSansCJKjp-Bold-c774" transform="translate(866.599854 0)"/>
   </g>
  </g>
 </g>
 <defs>
  <clipPath id="p58a61e97f8">
   <rect x="81" y="36.432" width="502.56" height="173.736"/>
  </clipPath>
  <clipPath id="pa4df5e8719">
   <rect x="81" y="214.704" width="502.56" height="54.504"/>
  </clipPath>
 </defs>
</svg>

</body></html>
